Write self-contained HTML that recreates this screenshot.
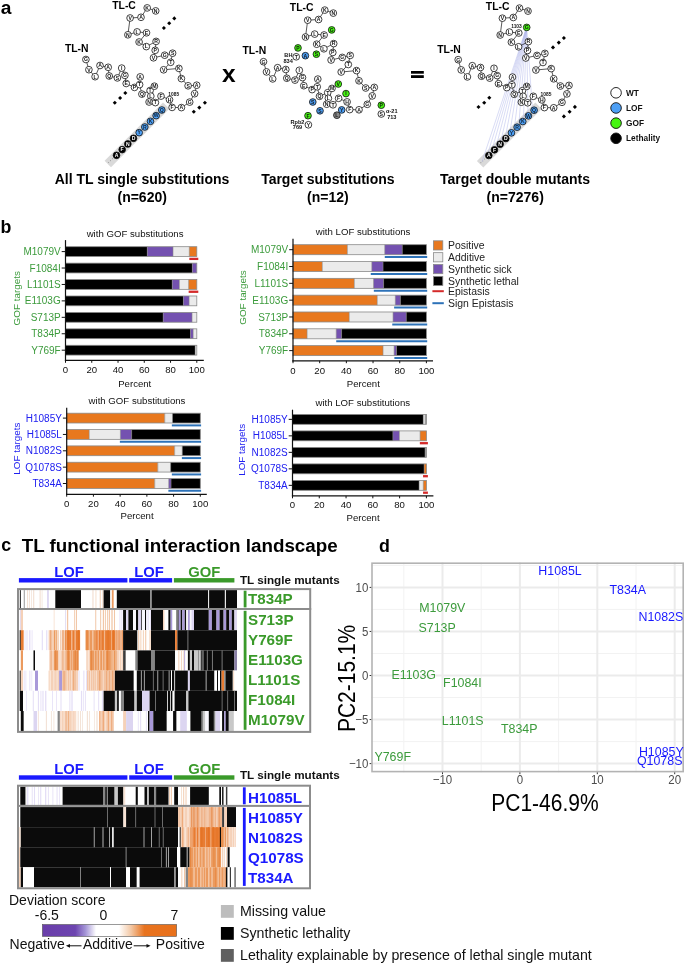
<!DOCTYPE html>
<html><head><meta charset="utf-8"><style>
html,body{margin:0;padding:0;background:#fff;}
svg{display:block;will-change:transform;}
text{font-family:"Liberation Sans", sans-serif;}
</style></head><body>
<svg width="685" height="965" viewBox="0 0 685 965" font-family='"Liberation Sans", sans-serif'>
<rect x="0" y="0" width="685" height="965" fill="#fff"/>
<text x="0.70" y="14.10" font-size="19.2" fill="#000" font-weight="bold" text-anchor="start" >a</text><line x1="107.80" y1="164.00" x2="166.20" y2="105.60" stroke="#d9d9d9" stroke-width="9"/><circle cx="108.60" cy="162.60" r="0.45" fill="#666"/><circle cx="110.50" cy="160.70" r="0.45" fill="#666"/><circle cx="112.40" cy="158.80" r="0.45" fill="#666"/><line x1="85.90" y1="59.50" x2="88.90" y2="69.70" stroke="#111" stroke-width="0.7" /><line x1="88.90" y1="69.70" x2="95.10" y2="76.70" stroke="#111" stroke-width="0.7" /><line x1="95.10" y1="76.70" x2="100.00" y2="65.50" stroke="#111" stroke-width="0.7" /><line x1="100.00" y1="65.50" x2="108.20" y2="67.30" stroke="#111" stroke-width="0.7" /><line x1="108.20" y1="67.30" x2="109.20" y2="76.00" stroke="#111" stroke-width="0.7" /><line x1="109.20" y1="76.00" x2="117.40" y2="77.90" stroke="#111" stroke-width="0.7" /><line x1="117.40" y1="77.90" x2="121.70" y2="68.10" stroke="#111" stroke-width="0.7" /><line x1="121.70" y1="68.10" x2="124.90" y2="75.40" stroke="#111" stroke-width="0.7" /><line x1="124.90" y1="75.40" x2="126.20" y2="83.50" stroke="#111" stroke-width="0.7" /><line x1="126.20" y1="83.50" x2="134.50" y2="87.40" stroke="#111" stroke-width="0.7" /><line x1="150.10" y1="90.50" x2="154.40" y2="86.20" stroke="#111" stroke-width="0.7" /><line x1="150.80" y1="96.10" x2="149.10" y2="102.00" stroke="#111" stroke-width="0.7" /><line x1="149.10" y1="102.00" x2="155.40" y2="102.60" stroke="#111" stroke-width="0.7" /><line x1="155.40" y1="102.60" x2="161.00" y2="96.10" stroke="#111" stroke-width="0.7" /><line x1="161.00" y1="96.10" x2="169.50" y2="99.70" stroke="#111" stroke-width="0.7" /><line x1="169.50" y1="99.70" x2="172.10" y2="107.40" stroke="#111" stroke-width="0.7" /><line x1="172.10" y1="107.40" x2="181.40" y2="107.60" stroke="#111" stroke-width="0.7" /><line x1="181.40" y1="107.60" x2="189.70" y2="102.10" stroke="#111" stroke-width="0.7" /><line x1="189.70" y1="102.10" x2="194.60" y2="93.70" stroke="#111" stroke-width="0.7" /><line x1="194.60" y1="93.70" x2="196.70" y2="85.20" stroke="#111" stroke-width="0.7" /><line x1="196.70" y1="85.20" x2="188.10" y2="85.80" stroke="#111" stroke-width="0.7" /><line x1="188.10" y1="85.80" x2="181.40" y2="78.60" stroke="#111" stroke-width="0.7" /><line x1="181.40" y1="78.60" x2="178.90" y2="68.40" stroke="#111" stroke-width="0.7" /><line x1="178.90" y1="68.40" x2="163.60" y2="69.80" stroke="#111" stroke-width="0.7" /><line x1="163.60" y1="69.80" x2="170.70" y2="62.30" stroke="#111" stroke-width="0.7" /><line x1="170.70" y1="62.30" x2="172.60" y2="53.20" stroke="#111" stroke-width="0.7" /><line x1="172.60" y1="53.20" x2="164.70" y2="55.20" stroke="#111" stroke-width="0.7" /><line x1="164.70" y1="55.20" x2="153.50" y2="57.80" stroke="#111" stroke-width="0.7" /><line x1="153.50" y1="57.80" x2="155.20" y2="50.30" stroke="#111" stroke-width="0.7" /><line x1="155.20" y1="50.30" x2="156.10" y2="41.40" stroke="#111" stroke-width="0.7" /><line x1="156.10" y1="41.40" x2="146.30" y2="46.60" stroke="#111" stroke-width="0.7" /><line x1="146.30" y1="46.60" x2="139.10" y2="42.00" stroke="#111" stroke-width="0.7" /><line x1="139.10" y1="42.00" x2="146.50" y2="32.80" stroke="#111" stroke-width="0.7" /><line x1="146.50" y1="32.80" x2="137.10" y2="31.90" stroke="#111" stroke-width="0.7" /><line x1="137.10" y1="31.90" x2="127.90" y2="34.80" stroke="#111" stroke-width="0.7" /><line x1="127.90" y1="34.80" x2="130.10" y2="18.00" stroke="#111" stroke-width="0.7" /><line x1="130.10" y1="18.00" x2="141.00" y2="17.30" stroke="#111" stroke-width="0.7" /><line x1="141.00" y1="17.30" x2="147.20" y2="7.90" stroke="#111" stroke-width="0.7" /><line x1="147.20" y1="7.90" x2="155.70" y2="10.90" stroke="#111" stroke-width="0.7" /><line x1="139.60" y1="84.60" x2="141.90" y2="94.10" stroke="#111" stroke-width="0.7" /><line x1="141.90" y1="94.10" x2="150.10" y2="90.50" stroke="#111" stroke-width="0.7" /><line x1="150.10" y1="90.50" x2="150.80" y2="96.10" stroke="#111" stroke-width="0.7" /><line x1="150.10" y1="90.50" x2="154.40" y2="86.20" stroke="#111" stroke-width="0.7" /><line x1="134.50" y1="87.40" x2="139.60" y2="84.60" stroke="#111" stroke-width="0.7" /><circle cx="85.90" cy="59.50" r="3.35" fill="#fff" stroke="#111" stroke-width="0.8"/><text x="85.90" y="61.30" font-size="5.1" font-weight="bold" fill="#111" text-anchor="middle">G</text><circle cx="88.90" cy="69.70" r="3.35" fill="#fff" stroke="#111" stroke-width="0.8"/><text x="88.90" y="71.50" font-size="5.1" font-weight="bold" fill="#111" text-anchor="middle">V</text><circle cx="95.10" cy="76.70" r="3.35" fill="#fff" stroke="#111" stroke-width="0.8"/><text x="95.10" y="78.50" font-size="5.1" font-weight="bold" fill="#111" text-anchor="middle">L</text><circle cx="100.00" cy="65.50" r="3.35" fill="#fff" stroke="#111" stroke-width="0.8"/><text x="100.00" y="67.30" font-size="5.1" font-weight="bold" fill="#111" text-anchor="middle">A</text><circle cx="108.20" cy="67.30" r="3.35" fill="#fff" stroke="#111" stroke-width="0.8"/><text x="108.20" y="69.10" font-size="5.1" font-weight="bold" fill="#111" text-anchor="middle">A</text><circle cx="109.20" cy="76.00" r="3.35" fill="#fff" stroke="#111" stroke-width="0.8"/><text x="109.20" y="77.80" font-size="5.1" font-weight="bold" fill="#111" text-anchor="middle">Q</text><circle cx="117.40" cy="77.90" r="3.35" fill="#fff" stroke="#111" stroke-width="0.8"/><text x="117.40" y="79.70" font-size="5.1" font-weight="bold" fill="#111" text-anchor="middle">S</text><circle cx="121.70" cy="68.10" r="3.35" fill="#fff" stroke="#111" stroke-width="0.8"/><text x="121.70" y="69.90" font-size="5.1" font-weight="bold" fill="#111" text-anchor="middle">I</text><circle cx="124.90" cy="75.40" r="3.35" fill="#fff" stroke="#111" stroke-width="0.8"/><text x="124.90" y="77.20" font-size="5.1" font-weight="bold" fill="#111" text-anchor="middle">G</text><circle cx="126.20" cy="83.50" r="3.35" fill="#fff" stroke="#111" stroke-width="0.8"/><text x="126.20" y="85.30" font-size="5.1" font-weight="bold" fill="#111" text-anchor="middle">E</text><circle cx="134.50" cy="87.40" r="3.35" fill="#fff" stroke="#111" stroke-width="0.8"/><text x="134.50" y="89.20" font-size="5.1" font-weight="bold" fill="#111" text-anchor="middle">P</text><circle cx="139.60" cy="84.60" r="3.35" fill="#fff" stroke="#111" stroke-width="0.8"/><text x="139.60" y="86.40" font-size="5.1" font-weight="bold" fill="#111" text-anchor="middle">T</text><circle cx="140.20" cy="76.90" r="3.35" fill="#fff" stroke="#111" stroke-width="0.8"/><text x="140.20" y="78.70" font-size="5.1" font-weight="bold" fill="#111" text-anchor="middle">A</text><circle cx="141.90" cy="94.10" r="3.35" fill="#fff" stroke="#111" stroke-width="0.8"/><text x="141.90" y="95.90" font-size="5.1" font-weight="bold" fill="#111" text-anchor="middle">Q</text><circle cx="150.10" cy="90.50" r="3.35" fill="#fff" stroke="#111" stroke-width="0.8"/><text x="150.10" y="92.30" font-size="5.1" font-weight="bold" fill="#111" text-anchor="middle">T</text><circle cx="154.40" cy="86.20" r="3.35" fill="#fff" stroke="#111" stroke-width="0.8"/><text x="154.40" y="88.00" font-size="5.1" font-weight="bold" fill="#111" text-anchor="middle">M</text><circle cx="150.80" cy="96.10" r="3.35" fill="#fff" stroke="#111" stroke-width="0.8"/><text x="150.80" y="97.90" font-size="5.1" font-weight="bold" fill="#111" text-anchor="middle">L</text><circle cx="149.10" cy="102.00" r="3.35" fill="#fff" stroke="#111" stroke-width="0.8"/><text x="149.10" y="103.80" font-size="5.1" font-weight="bold" fill="#111" text-anchor="middle">N</text><circle cx="155.40" cy="102.60" r="3.35" fill="#fff" stroke="#111" stroke-width="0.8"/><text x="155.40" y="104.40" font-size="5.1" font-weight="bold" fill="#111" text-anchor="middle">T</text><circle cx="161.00" cy="96.10" r="3.35" fill="#fff" stroke="#111" stroke-width="0.8"/><text x="161.00" y="97.90" font-size="5.1" font-weight="bold" fill="#111" text-anchor="middle">F</text><circle cx="169.50" cy="99.70" r="3.35" fill="#fff" stroke="#111" stroke-width="0.8"/><text x="169.50" y="101.50" font-size="5.1" font-weight="bold" fill="#111" text-anchor="middle">H</text><circle cx="172.10" cy="107.40" r="3.35" fill="#fff" stroke="#111" stroke-width="0.8"/><text x="172.10" y="109.20" font-size="5.1" font-weight="bold" fill="#111" text-anchor="middle">F</text><circle cx="181.40" cy="107.60" r="3.35" fill="#fff" stroke="#111" stroke-width="0.8"/><text x="181.40" y="109.40" font-size="5.1" font-weight="bold" fill="#111" text-anchor="middle">A</text><circle cx="189.70" cy="102.10" r="3.35" fill="#fff" stroke="#111" stroke-width="0.8"/><text x="189.70" y="103.90" font-size="5.1" font-weight="bold" fill="#111" text-anchor="middle">G</text><circle cx="194.60" cy="93.70" r="3.35" fill="#fff" stroke="#111" stroke-width="0.8"/><text x="194.60" y="95.50" font-size="5.1" font-weight="bold" fill="#111" text-anchor="middle">V</text><circle cx="196.70" cy="85.20" r="3.35" fill="#fff" stroke="#111" stroke-width="0.8"/><text x="196.70" y="87.00" font-size="5.1" font-weight="bold" fill="#111" text-anchor="middle">A</text><circle cx="188.10" cy="85.80" r="3.35" fill="#fff" stroke="#111" stroke-width="0.8"/><text x="188.10" y="87.60" font-size="5.1" font-weight="bold" fill="#111" text-anchor="middle">S</text><circle cx="181.40" cy="78.60" r="3.35" fill="#fff" stroke="#111" stroke-width="0.8"/><text x="181.40" y="80.40" font-size="5.1" font-weight="bold" fill="#111" text-anchor="middle">K</text><circle cx="178.90" cy="68.40" r="3.35" fill="#fff" stroke="#111" stroke-width="0.8"/><text x="178.90" y="70.20" font-size="5.1" font-weight="bold" fill="#111" text-anchor="middle">K</text><circle cx="163.60" cy="69.80" r="3.35" fill="#fff" stroke="#111" stroke-width="0.8"/><text x="163.60" y="71.60" font-size="5.1" font-weight="bold" fill="#111" text-anchor="middle">V</text><circle cx="170.70" cy="62.30" r="3.35" fill="#fff" stroke="#111" stroke-width="0.8"/><text x="170.70" y="64.10" font-size="5.1" font-weight="bold" fill="#111" text-anchor="middle">T</text><circle cx="172.60" cy="53.20" r="3.35" fill="#fff" stroke="#111" stroke-width="0.8"/><text x="172.60" y="55.00" font-size="5.1" font-weight="bold" fill="#111" text-anchor="middle">S</text><circle cx="164.70" cy="55.20" r="3.35" fill="#fff" stroke="#111" stroke-width="0.8"/><text x="164.70" y="57.00" font-size="5.1" font-weight="bold" fill="#111" text-anchor="middle">G</text><circle cx="153.50" cy="57.80" r="3.35" fill="#fff" stroke="#111" stroke-width="0.8"/><text x="153.50" y="59.60" font-size="5.1" font-weight="bold" fill="#111" text-anchor="middle">V</text><circle cx="155.20" cy="50.30" r="3.35" fill="#fff" stroke="#111" stroke-width="0.8"/><text x="155.20" y="52.10" font-size="5.1" font-weight="bold" fill="#111" text-anchor="middle">P</text><circle cx="156.10" cy="41.40" r="3.35" fill="#fff" stroke="#111" stroke-width="0.8"/><text x="156.10" y="43.20" font-size="5.1" font-weight="bold" fill="#111" text-anchor="middle">R</text><circle cx="146.30" cy="46.60" r="3.35" fill="#fff" stroke="#111" stroke-width="0.8"/><text x="146.30" y="48.40" font-size="5.1" font-weight="bold" fill="#111" text-anchor="middle">L</text><circle cx="139.10" cy="42.00" r="3.35" fill="#fff" stroke="#111" stroke-width="0.8"/><text x="139.10" y="43.80" font-size="5.1" font-weight="bold" fill="#111" text-anchor="middle">K</text><circle cx="146.50" cy="32.80" r="3.35" fill="#fff" stroke="#111" stroke-width="0.8"/><text x="146.50" y="34.60" font-size="5.1" font-weight="bold" fill="#111" text-anchor="middle">E</text><circle cx="137.10" cy="31.90" r="3.35" fill="#fff" stroke="#111" stroke-width="0.8"/><text x="137.10" y="33.70" font-size="5.1" font-weight="bold" fill="#111" text-anchor="middle">L</text><circle cx="127.90" cy="34.80" r="3.35" fill="#fff" stroke="#111" stroke-width="0.8"/><text x="127.90" y="36.60" font-size="5.1" font-weight="bold" fill="#111" text-anchor="middle">N</text><circle cx="130.10" cy="18.00" r="3.35" fill="#fff" stroke="#111" stroke-width="0.8"/><text x="130.10" y="19.80" font-size="5.1" font-weight="bold" fill="#111" text-anchor="middle">V</text><circle cx="141.00" cy="17.30" r="3.35" fill="#fff" stroke="#111" stroke-width="0.8"/><text x="141.00" y="19.10" font-size="5.1" font-weight="bold" fill="#111" text-anchor="middle">A</text><circle cx="147.20" cy="7.90" r="3.35" fill="#fff" stroke="#111" stroke-width="0.8"/><text x="147.20" y="9.70" font-size="5.1" font-weight="bold" fill="#111" text-anchor="middle">K</text><circle cx="155.70" cy="10.90" r="3.35" fill="#fff" stroke="#111" stroke-width="0.8"/><text x="155.70" y="12.70" font-size="5.1" font-weight="bold" fill="#111" text-anchor="middle">N</text><circle cx="161.80" cy="110.00" r="3.35" fill="#4d9ff5" stroke="#111" stroke-width="0.8"/><text x="161.80" y="111.80" font-size="5.1" font-weight="bold" fill="#123" text-anchor="middle">Q</text><circle cx="156.14" cy="115.66" r="3.35" fill="#4d9ff5" stroke="#111" stroke-width="0.8"/><text x="156.14" y="117.46" font-size="5.1" font-weight="bold" fill="#123" text-anchor="middle">W</text><circle cx="150.48" cy="121.32" r="3.35" fill="#4d9ff5" stroke="#111" stroke-width="0.8"/><text x="150.48" y="123.12" font-size="5.1" font-weight="bold" fill="#123" text-anchor="middle">K</text><circle cx="144.82" cy="126.98" r="3.35" fill="#4d9ff5" stroke="#111" stroke-width="0.8"/><text x="144.82" y="128.78" font-size="5.1" font-weight="bold" fill="#123" text-anchor="middle">R</text><circle cx="139.16" cy="132.64" r="3.35" fill="#4d9ff5" stroke="#111" stroke-width="0.8"/><text x="139.16" y="134.44" font-size="5.1" font-weight="bold" fill="#123" text-anchor="middle">Y</text><circle cx="133.50" cy="138.30" r="3.35" fill="#000" stroke="#111" stroke-width="0.8"/><text x="133.50" y="140.10" font-size="5.1" font-weight="bold" fill="#fff" text-anchor="middle">D</text><circle cx="127.84" cy="143.96" r="3.35" fill="#000" stroke="#111" stroke-width="0.8"/><text x="127.84" y="145.76" font-size="5.1" font-weight="bold" fill="#fff" text-anchor="middle">N</text><circle cx="122.18" cy="149.62" r="3.35" fill="#000" stroke="#111" stroke-width="0.8"/><text x="122.18" y="151.42" font-size="5.1" font-weight="bold" fill="#fff" text-anchor="middle">F</text><circle cx="116.52" cy="155.28" r="3.35" fill="#000" stroke="#111" stroke-width="0.8"/><text x="116.52" y="157.08" font-size="5.1" font-weight="bold" fill="#fff" text-anchor="middle">A</text><path d="M163.90,25.95 L165.95,28.00 L163.90,30.05 L161.85,28.00 Z" fill="#000"/><path d="M169.20,21.25 L171.25,23.30 L169.20,25.35 L167.15,23.30 Z" fill="#000"/><path d="M174.30,16.35 L176.35,18.40 L174.30,20.45 L172.25,18.40 Z" fill="#000"/><path d="M114.80,100.75 L116.85,102.80 L114.80,104.85 L112.75,102.80 Z" fill="#000"/><path d="M120.10,95.95 L122.15,98.00 L120.10,100.05 L118.05,98.00 Z" fill="#000"/><path d="M125.30,90.95 L127.35,93.00 L125.30,95.05 L123.25,93.00 Z" fill="#000"/><path d="M193.80,109.65 L195.85,111.70 L193.80,113.75 L191.75,111.70 Z" fill="#000"/><path d="M199.30,105.55 L201.35,107.60 L199.30,109.65 L197.25,107.60 Z" fill="#000"/><path d="M204.90,100.65 L206.95,102.70 L204.90,104.75 L202.85,102.70 Z" fill="#000"/><text x="168.30" y="96.00" font-size="4.9" fill="#111" font-weight="bold" text-anchor="start" >1085</text><text x="112.20" y="8.80" font-size="10.4" fill="#000" font-weight="bold" text-anchor="start" >TL-C</text><text x="64.90" y="52.00" font-size="10.4" fill="#000" font-weight="bold" text-anchor="start" >TL-N</text><text x="142.00" y="184.20" font-size="14" fill="#000" font-weight="bold" text-anchor="middle" >All TL single substitutions</text><text x="142.20" y="201.90" font-size="14" fill="#000" font-weight="bold" text-anchor="middle" >(n=620)</text><line x1="263.50" y1="61.70" x2="266.50" y2="71.90" stroke="#111" stroke-width="0.7" /><line x1="266.50" y1="71.90" x2="272.70" y2="78.90" stroke="#111" stroke-width="0.7" /><line x1="272.70" y1="78.90" x2="277.60" y2="67.70" stroke="#111" stroke-width="0.7" /><line x1="277.60" y1="67.70" x2="285.80" y2="69.50" stroke="#111" stroke-width="0.7" /><line x1="285.80" y1="69.50" x2="286.80" y2="78.20" stroke="#111" stroke-width="0.7" /><line x1="286.80" y1="78.20" x2="295.00" y2="80.10" stroke="#111" stroke-width="0.7" /><line x1="295.00" y1="80.10" x2="299.30" y2="70.30" stroke="#111" stroke-width="0.7" /><line x1="299.30" y1="70.30" x2="302.50" y2="77.60" stroke="#111" stroke-width="0.7" /><line x1="302.50" y1="77.60" x2="303.80" y2="85.70" stroke="#111" stroke-width="0.7" /><line x1="303.80" y1="85.70" x2="312.10" y2="89.60" stroke="#111" stroke-width="0.7" /><line x1="327.70" y1="92.70" x2="332.00" y2="88.40" stroke="#111" stroke-width="0.7" /><line x1="328.40" y1="98.30" x2="326.70" y2="104.20" stroke="#111" stroke-width="0.7" /><line x1="326.70" y1="104.20" x2="333.00" y2="104.80" stroke="#111" stroke-width="0.7" /><line x1="333.00" y1="104.80" x2="338.60" y2="98.30" stroke="#111" stroke-width="0.7" /><line x1="338.60" y1="98.30" x2="347.10" y2="101.90" stroke="#111" stroke-width="0.7" /><line x1="347.10" y1="101.90" x2="349.70" y2="109.60" stroke="#111" stroke-width="0.7" /><line x1="349.70" y1="109.60" x2="359.00" y2="109.80" stroke="#111" stroke-width="0.7" /><line x1="359.00" y1="109.80" x2="367.30" y2="104.30" stroke="#111" stroke-width="0.7" /><line x1="367.30" y1="104.30" x2="372.20" y2="95.90" stroke="#111" stroke-width="0.7" /><line x1="372.20" y1="95.90" x2="374.30" y2="87.40" stroke="#111" stroke-width="0.7" /><line x1="374.30" y1="87.40" x2="365.70" y2="88.00" stroke="#111" stroke-width="0.7" /><line x1="365.70" y1="88.00" x2="359.00" y2="80.80" stroke="#111" stroke-width="0.7" /><line x1="359.00" y1="80.80" x2="356.50" y2="70.60" stroke="#111" stroke-width="0.7" /><line x1="356.50" y1="70.60" x2="341.20" y2="72.00" stroke="#111" stroke-width="0.7" /><line x1="341.20" y1="72.00" x2="348.30" y2="64.50" stroke="#111" stroke-width="0.7" /><line x1="348.30" y1="64.50" x2="350.20" y2="55.40" stroke="#111" stroke-width="0.7" /><line x1="350.20" y1="55.40" x2="342.30" y2="57.40" stroke="#111" stroke-width="0.7" /><line x1="342.30" y1="57.40" x2="331.10" y2="60.00" stroke="#111" stroke-width="0.7" /><line x1="331.10" y1="60.00" x2="332.80" y2="52.50" stroke="#111" stroke-width="0.7" /><line x1="332.80" y1="52.50" x2="333.70" y2="43.60" stroke="#111" stroke-width="0.7" /><line x1="333.70" y1="43.60" x2="323.90" y2="48.80" stroke="#111" stroke-width="0.7" /><line x1="323.90" y1="48.80" x2="316.70" y2="44.20" stroke="#111" stroke-width="0.7" /><line x1="316.70" y1="44.20" x2="324.10" y2="35.00" stroke="#111" stroke-width="0.7" /><line x1="324.10" y1="35.00" x2="314.70" y2="34.10" stroke="#111" stroke-width="0.7" /><line x1="314.70" y1="34.10" x2="305.50" y2="37.00" stroke="#111" stroke-width="0.7" /><line x1="305.50" y1="37.00" x2="307.70" y2="20.20" stroke="#111" stroke-width="0.7" /><line x1="307.70" y1="20.20" x2="318.60" y2="19.50" stroke="#111" stroke-width="0.7" /><line x1="318.60" y1="19.50" x2="324.80" y2="10.10" stroke="#111" stroke-width="0.7" /><line x1="324.80" y1="10.10" x2="333.30" y2="13.10" stroke="#111" stroke-width="0.7" /><line x1="317.20" y1="86.80" x2="319.50" y2="96.30" stroke="#111" stroke-width="0.7" /><line x1="319.50" y1="96.30" x2="327.70" y2="92.70" stroke="#111" stroke-width="0.7" /><line x1="327.70" y1="92.70" x2="328.40" y2="98.30" stroke="#111" stroke-width="0.7" /><line x1="327.70" y1="92.70" x2="332.00" y2="88.40" stroke="#111" stroke-width="0.7" /><line x1="312.10" y1="89.60" x2="317.20" y2="86.80" stroke="#111" stroke-width="0.7" /><circle cx="263.50" cy="61.70" r="3.35" fill="#fff" stroke="#111" stroke-width="0.8"/><text x="263.50" y="63.50" font-size="5.1" font-weight="bold" fill="#111" text-anchor="middle">G</text><circle cx="266.50" cy="71.90" r="3.35" fill="#fff" stroke="#111" stroke-width="0.8"/><text x="266.50" y="73.70" font-size="5.1" font-weight="bold" fill="#111" text-anchor="middle">V</text><circle cx="272.70" cy="78.90" r="3.35" fill="#fff" stroke="#111" stroke-width="0.8"/><text x="272.70" y="80.70" font-size="5.1" font-weight="bold" fill="#111" text-anchor="middle">L</text><circle cx="277.60" cy="67.70" r="3.35" fill="#fff" stroke="#111" stroke-width="0.8"/><text x="277.60" y="69.50" font-size="5.1" font-weight="bold" fill="#111" text-anchor="middle">A</text><circle cx="285.80" cy="69.50" r="3.35" fill="#fff" stroke="#111" stroke-width="0.8"/><text x="285.80" y="71.30" font-size="5.1" font-weight="bold" fill="#111" text-anchor="middle">A</text><circle cx="286.80" cy="78.20" r="3.35" fill="#fff" stroke="#111" stroke-width="0.8"/><text x="286.80" y="80.00" font-size="5.1" font-weight="bold" fill="#111" text-anchor="middle">Q</text><circle cx="295.00" cy="80.10" r="3.35" fill="#fff" stroke="#111" stroke-width="0.8"/><text x="295.00" y="81.90" font-size="5.1" font-weight="bold" fill="#111" text-anchor="middle">S</text><circle cx="299.30" cy="70.30" r="3.35" fill="#fff" stroke="#111" stroke-width="0.8"/><text x="299.30" y="72.10" font-size="5.1" font-weight="bold" fill="#111" text-anchor="middle">I</text><circle cx="302.50" cy="77.60" r="3.35" fill="#fff" stroke="#111" stroke-width="0.8"/><text x="302.50" y="79.40" font-size="5.1" font-weight="bold" fill="#111" text-anchor="middle">G</text><circle cx="303.80" cy="85.70" r="3.35" fill="#fff" stroke="#111" stroke-width="0.8"/><text x="303.80" y="87.50" font-size="5.1" font-weight="bold" fill="#111" text-anchor="middle">E</text><circle cx="312.10" cy="89.60" r="3.35" fill="#fff" stroke="#111" stroke-width="0.8"/><text x="312.10" y="91.40" font-size="5.1" font-weight="bold" fill="#111" text-anchor="middle">P</text><circle cx="317.20" cy="86.80" r="3.35" fill="#fff" stroke="#111" stroke-width="0.8"/><text x="317.20" y="88.60" font-size="5.1" font-weight="bold" fill="#111" text-anchor="middle">T</text><circle cx="317.80" cy="79.10" r="3.35" fill="#fff" stroke="#111" stroke-width="0.8"/><text x="317.80" y="80.90" font-size="5.1" font-weight="bold" fill="#111" text-anchor="middle">A</text><circle cx="319.50" cy="96.30" r="3.35" fill="#fff" stroke="#111" stroke-width="0.8"/><text x="319.50" y="98.10" font-size="5.1" font-weight="bold" fill="#111" text-anchor="middle">Q</text><circle cx="327.70" cy="92.70" r="3.35" fill="#fff" stroke="#111" stroke-width="0.8"/><text x="327.70" y="94.50" font-size="5.1" font-weight="bold" fill="#111" text-anchor="middle">T</text><circle cx="332.00" cy="88.40" r="3.35" fill="#fff" stroke="#111" stroke-width="0.8"/><text x="332.00" y="90.20" font-size="5.1" font-weight="bold" fill="#111" text-anchor="middle">M</text><circle cx="328.40" cy="98.30" r="3.35" fill="#fff" stroke="#111" stroke-width="0.8"/><text x="328.40" y="100.10" font-size="5.1" font-weight="bold" fill="#111" text-anchor="middle">L</text><circle cx="326.70" cy="104.20" r="3.35" fill="#fff" stroke="#111" stroke-width="0.8"/><text x="326.70" y="106.00" font-size="5.1" font-weight="bold" fill="#111" text-anchor="middle">N</text><circle cx="333.00" cy="104.80" r="3.35" fill="#fff" stroke="#111" stroke-width="0.8"/><text x="333.00" y="106.60" font-size="5.1" font-weight="bold" fill="#111" text-anchor="middle">T</text><circle cx="338.60" cy="98.30" r="3.35" fill="#fff" stroke="#111" stroke-width="0.8"/><text x="338.60" y="100.10" font-size="5.1" font-weight="bold" fill="#111" text-anchor="middle">F</text><circle cx="347.10" cy="101.90" r="3.35" fill="#fff" stroke="#111" stroke-width="0.8"/><text x="347.10" y="103.70" font-size="5.1" font-weight="bold" fill="#111" text-anchor="middle">H</text><circle cx="349.70" cy="109.60" r="3.35" fill="#fff" stroke="#111" stroke-width="0.8"/><text x="349.70" y="111.40" font-size="5.1" font-weight="bold" fill="#111" text-anchor="middle">F</text><circle cx="359.00" cy="109.80" r="3.35" fill="#fff" stroke="#111" stroke-width="0.8"/><text x="359.00" y="111.60" font-size="5.1" font-weight="bold" fill="#111" text-anchor="middle">A</text><circle cx="367.30" cy="104.30" r="3.35" fill="#fff" stroke="#111" stroke-width="0.8"/><text x="367.30" y="106.10" font-size="5.1" font-weight="bold" fill="#111" text-anchor="middle">G</text><circle cx="372.20" cy="95.90" r="3.35" fill="#fff" stroke="#111" stroke-width="0.8"/><text x="372.20" y="97.70" font-size="5.1" font-weight="bold" fill="#111" text-anchor="middle">V</text><circle cx="374.30" cy="87.40" r="3.35" fill="#fff" stroke="#111" stroke-width="0.8"/><text x="374.30" y="89.20" font-size="5.1" font-weight="bold" fill="#111" text-anchor="middle">A</text><circle cx="365.70" cy="88.00" r="3.35" fill="#fff" stroke="#111" stroke-width="0.8"/><text x="365.70" y="89.80" font-size="5.1" font-weight="bold" fill="#111" text-anchor="middle">S</text><circle cx="359.00" cy="80.80" r="3.35" fill="#fff" stroke="#111" stroke-width="0.8"/><text x="359.00" y="82.60" font-size="5.1" font-weight="bold" fill="#111" text-anchor="middle">K</text><circle cx="356.50" cy="70.60" r="3.35" fill="#fff" stroke="#111" stroke-width="0.8"/><text x="356.50" y="72.40" font-size="5.1" font-weight="bold" fill="#111" text-anchor="middle">K</text><circle cx="341.20" cy="72.00" r="3.35" fill="#fff" stroke="#111" stroke-width="0.8"/><text x="341.20" y="73.80" font-size="5.1" font-weight="bold" fill="#111" text-anchor="middle">V</text><circle cx="348.30" cy="64.50" r="3.35" fill="#fff" stroke="#111" stroke-width="0.8"/><text x="348.30" y="66.30" font-size="5.1" font-weight="bold" fill="#111" text-anchor="middle">T</text><circle cx="350.20" cy="55.40" r="3.35" fill="#fff" stroke="#111" stroke-width="0.8"/><text x="350.20" y="57.20" font-size="5.1" font-weight="bold" fill="#111" text-anchor="middle">S</text><circle cx="342.30" cy="57.40" r="3.35" fill="#fff" stroke="#111" stroke-width="0.8"/><text x="342.30" y="59.20" font-size="5.1" font-weight="bold" fill="#111" text-anchor="middle">G</text><circle cx="331.10" cy="60.00" r="3.35" fill="#fff" stroke="#111" stroke-width="0.8"/><text x="331.10" y="61.80" font-size="5.1" font-weight="bold" fill="#111" text-anchor="middle">V</text><circle cx="332.80" cy="52.50" r="3.35" fill="#fff" stroke="#111" stroke-width="0.8"/><text x="332.80" y="54.30" font-size="5.1" font-weight="bold" fill="#111" text-anchor="middle">P</text><circle cx="333.70" cy="43.60" r="3.35" fill="#fff" stroke="#111" stroke-width="0.8"/><text x="333.70" y="45.40" font-size="5.1" font-weight="bold" fill="#111" text-anchor="middle">R</text><circle cx="323.90" cy="48.80" r="3.35" fill="#fff" stroke="#111" stroke-width="0.8"/><text x="323.90" y="50.60" font-size="5.1" font-weight="bold" fill="#111" text-anchor="middle">L</text><circle cx="316.70" cy="44.20" r="3.35" fill="#fff" stroke="#111" stroke-width="0.8"/><text x="316.70" y="46.00" font-size="5.1" font-weight="bold" fill="#111" text-anchor="middle">K</text><circle cx="324.10" cy="35.00" r="3.35" fill="#fff" stroke="#111" stroke-width="0.8"/><text x="324.10" y="36.80" font-size="5.1" font-weight="bold" fill="#111" text-anchor="middle">E</text><circle cx="314.70" cy="34.10" r="3.35" fill="#fff" stroke="#111" stroke-width="0.8"/><text x="314.70" y="35.90" font-size="5.1" font-weight="bold" fill="#111" text-anchor="middle">L</text><circle cx="305.50" cy="37.00" r="3.35" fill="#fff" stroke="#111" stroke-width="0.8"/><text x="305.50" y="38.80" font-size="5.1" font-weight="bold" fill="#111" text-anchor="middle">N</text><circle cx="307.70" cy="20.20" r="3.35" fill="#fff" stroke="#111" stroke-width="0.8"/><text x="307.70" y="22.00" font-size="5.1" font-weight="bold" fill="#111" text-anchor="middle">V</text><circle cx="318.60" cy="19.50" r="3.35" fill="#fff" stroke="#111" stroke-width="0.8"/><text x="318.60" y="21.30" font-size="5.1" font-weight="bold" fill="#111" text-anchor="middle">A</text><circle cx="324.80" cy="10.10" r="3.35" fill="#fff" stroke="#111" stroke-width="0.8"/><text x="324.80" y="11.90" font-size="5.1" font-weight="bold" fill="#111" text-anchor="middle">K</text><circle cx="333.30" cy="13.10" r="3.35" fill="#fff" stroke="#111" stroke-width="0.8"/><text x="333.30" y="14.90" font-size="5.1" font-weight="bold" fill="#111" text-anchor="middle">N</text><circle cx="331.70" cy="29.90" r="3.35" fill="#45f510" stroke="#111" stroke-width="0.8"/><text x="331.70" y="31.70" font-size="5.1" font-weight="bold" fill="#111" text-anchor="middle">G</text><circle cx="298.00" cy="47.90" r="3.35" fill="#45f510" stroke="#111" stroke-width="0.8"/><text x="298.00" y="49.70" font-size="5.1" font-weight="bold" fill="#111" text-anchor="middle">P</text><circle cx="296.20" cy="56.80" r="3.35" fill="#fff" stroke="#111" stroke-width="0.8"/><text x="296.20" y="58.60" font-size="5.1" font-weight="bold" fill="#111" text-anchor="middle">T</text><circle cx="305.40" cy="55.70" r="3.35" fill="#4d9ff5" stroke="#111" stroke-width="0.8"/><text x="305.40" y="57.50" font-size="5.1" font-weight="bold" fill="#111" text-anchor="middle">A</text><circle cx="316.40" cy="54.20" r="3.35" fill="#45f510" stroke="#111" stroke-width="0.8"/><text x="316.40" y="56.00" font-size="5.1" font-weight="bold" fill="#111" text-anchor="middle">S</text><circle cx="338.30" cy="84.00" r="3.35" fill="#45f510" stroke="#111" stroke-width="0.8"/><text x="338.30" y="85.80" font-size="5.1" font-weight="bold" fill="#111" text-anchor="middle">V</text><circle cx="346.00" cy="93.60" r="3.35" fill="#45f510" stroke="#111" stroke-width="0.8"/><text x="346.00" y="95.40" font-size="5.1" font-weight="bold" fill="#111" text-anchor="middle">I</text><circle cx="312.80" cy="102.00" r="3.35" fill="#4d9ff5" stroke="#111" stroke-width="0.8"/><text x="312.80" y="103.80" font-size="5.1" font-weight="bold" fill="#111" text-anchor="middle">S</text><circle cx="320.00" cy="110.80" r="3.35" fill="#4d9ff5" stroke="#111" stroke-width="0.8"/><text x="320.00" y="112.60" font-size="5.1" font-weight="bold" fill="#111" text-anchor="middle">S</text><circle cx="341.70" cy="109.90" r="3.35" fill="#4d9ff5" stroke="#111" stroke-width="0.8"/><text x="341.70" y="111.70" font-size="5.1" font-weight="bold" fill="#111" text-anchor="middle">Y</text><circle cx="336.90" cy="115.20" r="3.35" fill="#8a8a8a" stroke="#111" stroke-width="0.8"/><text x="336.90" y="117.00" font-size="5.1" font-weight="bold" fill="#111" text-anchor="middle">L</text><circle cx="308.00" cy="115.70" r="3.35" fill="#45f510" stroke="#111" stroke-width="0.8"/><text x="308.00" y="117.50" font-size="5.1" font-weight="bold" fill="#111" text-anchor="middle">F</text><circle cx="308.40" cy="124.80" r="3.35" fill="#fff" stroke="#111" stroke-width="0.8"/><text x="308.40" y="126.60" font-size="5.1" font-weight="bold" fill="#111" text-anchor="middle">Y</text><circle cx="381.30" cy="105.20" r="3.35" fill="#45f510" stroke="#111" stroke-width="0.8"/><text x="381.30" y="107.00" font-size="5.1" font-weight="bold" fill="#111" text-anchor="middle">P</text><circle cx="381.30" cy="114.00" r="3.35" fill="#fff" stroke="#111" stroke-width="0.8"/><text x="381.30" y="115.80" font-size="5.1" font-weight="bold" fill="#111" text-anchor="middle">S</text><text x="288.40" y="56.60" font-size="5.6" fill="#111" font-weight="bold" text-anchor="middle" >BH</text><text x="288.10" y="62.80" font-size="5.6" fill="#111" font-weight="bold" text-anchor="middle" >834</text><text x="297.50" y="123.50" font-size="5.6" fill="#111" font-weight="bold" text-anchor="middle" >Rpb2</text><text x="297.50" y="129.30" font-size="5.6" fill="#111" font-weight="bold" text-anchor="middle" >769</text><text x="391.80" y="113.00" font-size="5.6" fill="#111" font-weight="bold" text-anchor="middle" >α-21</text><text x="391.80" y="118.80" font-size="5.6" fill="#111" font-weight="bold" text-anchor="middle" >713</text><text x="289.80" y="11.00" font-size="10.4" fill="#000" font-weight="bold" text-anchor="start" >TL-C</text><text x="242.50" y="54.20" font-size="10.4" fill="#000" font-weight="bold" text-anchor="start" >TL-N</text><text x="222.00" y="81.80" font-size="24.5" fill="#000" font-weight="bold" text-anchor="start" >x</text><text x="327.90" y="184.40" font-size="14" fill="#000" font-weight="bold" text-anchor="middle" >Target substitutions</text><text x="327.90" y="201.80" font-size="14" fill="#000" font-weight="bold" text-anchor="middle" >(n=12)</text><rect x="411.00" y="71.00" width="12.80" height="2.70" fill="#000" /><rect x="411.00" y="75.20" width="12.80" height="2.80" fill="#000" /><line x1="480.10" y1="164.20" x2="538.50" y2="105.80" stroke="#d9d9d9" stroke-width="9"/><circle cx="480.90" cy="162.80" r="0.45" fill="#666"/><circle cx="482.80" cy="160.90" r="0.45" fill="#666"/><circle cx="484.70" cy="159.00" r="0.45" fill="#666"/><line x1="526.60" y1="27.40" x2="482.00" y2="161.80" stroke="#b3b8ea" stroke-width="0.5" /><line x1="526.60" y1="27.40" x2="486.60" y2="157.20" stroke="#b3b8ea" stroke-width="0.5" /><line x1="526.60" y1="27.40" x2="491.20" y2="152.60" stroke="#b3b8ea" stroke-width="0.5" /><line x1="526.60" y1="27.40" x2="495.80" y2="148.00" stroke="#b3b8ea" stroke-width="0.5" /><line x1="526.60" y1="27.40" x2="500.40" y2="143.40" stroke="#b3b8ea" stroke-width="0.5" /><line x1="526.60" y1="27.40" x2="505.00" y2="138.80" stroke="#b3b8ea" stroke-width="0.5" /><line x1="526.60" y1="27.40" x2="509.60" y2="134.20" stroke="#b3b8ea" stroke-width="0.5" /><line x1="526.60" y1="27.40" x2="514.20" y2="129.60" stroke="#b3b8ea" stroke-width="0.5" /><line x1="526.60" y1="27.40" x2="518.80" y2="125.00" stroke="#b3b8ea" stroke-width="0.5" /><line x1="526.60" y1="27.40" x2="523.40" y2="120.40" stroke="#b3b8ea" stroke-width="0.5" /><line x1="526.60" y1="27.40" x2="528.00" y2="115.80" stroke="#b3b8ea" stroke-width="0.5" /><line x1="526.60" y1="27.40" x2="532.60" y2="111.20" stroke="#b3b8ea" stroke-width="0.5" /><line x1="458.20" y1="59.70" x2="461.20" y2="69.90" stroke="#111" stroke-width="0.7" /><line x1="461.20" y1="69.90" x2="467.40" y2="76.90" stroke="#111" stroke-width="0.7" /><line x1="467.40" y1="76.90" x2="472.30" y2="65.70" stroke="#111" stroke-width="0.7" /><line x1="472.30" y1="65.70" x2="480.50" y2="67.50" stroke="#111" stroke-width="0.7" /><line x1="480.50" y1="67.50" x2="481.50" y2="76.20" stroke="#111" stroke-width="0.7" /><line x1="481.50" y1="76.20" x2="489.70" y2="78.10" stroke="#111" stroke-width="0.7" /><line x1="489.70" y1="78.10" x2="494.00" y2="68.30" stroke="#111" stroke-width="0.7" /><line x1="494.00" y1="68.30" x2="497.20" y2="75.60" stroke="#111" stroke-width="0.7" /><line x1="497.20" y1="75.60" x2="498.50" y2="83.70" stroke="#111" stroke-width="0.7" /><line x1="498.50" y1="83.70" x2="506.80" y2="87.60" stroke="#111" stroke-width="0.7" /><line x1="522.40" y1="90.70" x2="526.70" y2="86.40" stroke="#111" stroke-width="0.7" /><line x1="523.10" y1="96.30" x2="521.40" y2="102.20" stroke="#111" stroke-width="0.7" /><line x1="521.40" y1="102.20" x2="527.70" y2="102.80" stroke="#111" stroke-width="0.7" /><line x1="527.70" y1="102.80" x2="533.30" y2="96.30" stroke="#111" stroke-width="0.7" /><line x1="533.30" y1="96.30" x2="541.80" y2="99.90" stroke="#111" stroke-width="0.7" /><line x1="541.80" y1="99.90" x2="544.40" y2="107.60" stroke="#111" stroke-width="0.7" /><line x1="544.40" y1="107.60" x2="553.70" y2="107.80" stroke="#111" stroke-width="0.7" /><line x1="553.70" y1="107.80" x2="562.00" y2="102.30" stroke="#111" stroke-width="0.7" /><line x1="562.00" y1="102.30" x2="566.90" y2="93.90" stroke="#111" stroke-width="0.7" /><line x1="566.90" y1="93.90" x2="569.00" y2="85.40" stroke="#111" stroke-width="0.7" /><line x1="569.00" y1="85.40" x2="560.40" y2="86.00" stroke="#111" stroke-width="0.7" /><line x1="560.40" y1="86.00" x2="553.70" y2="78.80" stroke="#111" stroke-width="0.7" /><line x1="553.70" y1="78.80" x2="551.20" y2="68.60" stroke="#111" stroke-width="0.7" /><line x1="551.20" y1="68.60" x2="535.90" y2="70.00" stroke="#111" stroke-width="0.7" /><line x1="535.90" y1="70.00" x2="543.00" y2="62.50" stroke="#111" stroke-width="0.7" /><line x1="543.00" y1="62.50" x2="544.90" y2="53.40" stroke="#111" stroke-width="0.7" /><line x1="544.90" y1="53.40" x2="537.00" y2="55.40" stroke="#111" stroke-width="0.7" /><line x1="537.00" y1="55.40" x2="525.80" y2="58.00" stroke="#111" stroke-width="0.7" /><line x1="525.80" y1="58.00" x2="527.50" y2="50.50" stroke="#111" stroke-width="0.7" /><line x1="527.50" y1="50.50" x2="528.40" y2="41.60" stroke="#111" stroke-width="0.7" /><line x1="528.40" y1="41.60" x2="518.60" y2="46.80" stroke="#111" stroke-width="0.7" /><line x1="518.60" y1="46.80" x2="511.40" y2="42.20" stroke="#111" stroke-width="0.7" /><line x1="511.40" y1="42.20" x2="518.80" y2="33.00" stroke="#111" stroke-width="0.7" /><line x1="518.80" y1="33.00" x2="509.40" y2="32.10" stroke="#111" stroke-width="0.7" /><line x1="509.40" y1="32.10" x2="500.20" y2="35.00" stroke="#111" stroke-width="0.7" /><line x1="500.20" y1="35.00" x2="502.40" y2="18.20" stroke="#111" stroke-width="0.7" /><line x1="502.40" y1="18.20" x2="513.30" y2="17.50" stroke="#111" stroke-width="0.7" /><line x1="513.30" y1="17.50" x2="519.50" y2="8.10" stroke="#111" stroke-width="0.7" /><line x1="519.50" y1="8.10" x2="528.00" y2="11.10" stroke="#111" stroke-width="0.7" /><line x1="511.90" y1="84.80" x2="514.20" y2="94.30" stroke="#111" stroke-width="0.7" /><line x1="514.20" y1="94.30" x2="522.40" y2="90.70" stroke="#111" stroke-width="0.7" /><line x1="522.40" y1="90.70" x2="523.10" y2="96.30" stroke="#111" stroke-width="0.7" /><line x1="522.40" y1="90.70" x2="526.70" y2="86.40" stroke="#111" stroke-width="0.7" /><line x1="506.80" y1="87.60" x2="511.90" y2="84.80" stroke="#111" stroke-width="0.7" /><circle cx="458.20" cy="59.70" r="3.35" fill="#fff" stroke="#111" stroke-width="0.8"/><text x="458.20" y="61.50" font-size="5.1" font-weight="bold" fill="#111" text-anchor="middle">G</text><circle cx="461.20" cy="69.90" r="3.35" fill="#fff" stroke="#111" stroke-width="0.8"/><text x="461.20" y="71.70" font-size="5.1" font-weight="bold" fill="#111" text-anchor="middle">V</text><circle cx="467.40" cy="76.90" r="3.35" fill="#fff" stroke="#111" stroke-width="0.8"/><text x="467.40" y="78.70" font-size="5.1" font-weight="bold" fill="#111" text-anchor="middle">L</text><circle cx="472.30" cy="65.70" r="3.35" fill="#fff" stroke="#111" stroke-width="0.8"/><text x="472.30" y="67.50" font-size="5.1" font-weight="bold" fill="#111" text-anchor="middle">A</text><circle cx="480.50" cy="67.50" r="3.35" fill="#fff" stroke="#111" stroke-width="0.8"/><text x="480.50" y="69.30" font-size="5.1" font-weight="bold" fill="#111" text-anchor="middle">A</text><circle cx="481.50" cy="76.20" r="3.35" fill="#fff" stroke="#111" stroke-width="0.8"/><text x="481.50" y="78.00" font-size="5.1" font-weight="bold" fill="#111" text-anchor="middle">Q</text><circle cx="489.70" cy="78.10" r="3.35" fill="#fff" stroke="#111" stroke-width="0.8"/><text x="489.70" y="79.90" font-size="5.1" font-weight="bold" fill="#111" text-anchor="middle">S</text><circle cx="494.00" cy="68.30" r="3.35" fill="#fff" stroke="#111" stroke-width="0.8"/><text x="494.00" y="70.10" font-size="5.1" font-weight="bold" fill="#111" text-anchor="middle">I</text><circle cx="497.20" cy="75.60" r="3.35" fill="#fff" stroke="#111" stroke-width="0.8"/><text x="497.20" y="77.40" font-size="5.1" font-weight="bold" fill="#111" text-anchor="middle">G</text><circle cx="498.50" cy="83.70" r="3.35" fill="#fff" stroke="#111" stroke-width="0.8"/><text x="498.50" y="85.50" font-size="5.1" font-weight="bold" fill="#111" text-anchor="middle">E</text><circle cx="506.80" cy="87.60" r="3.35" fill="#fff" stroke="#111" stroke-width="0.8"/><text x="506.80" y="89.40" font-size="5.1" font-weight="bold" fill="#111" text-anchor="middle">P</text><circle cx="511.90" cy="84.80" r="3.35" fill="#fff" stroke="#111" stroke-width="0.8"/><text x="511.90" y="86.60" font-size="5.1" font-weight="bold" fill="#111" text-anchor="middle">T</text><circle cx="512.50" cy="77.10" r="3.35" fill="#fff" stroke="#111" stroke-width="0.8"/><text x="512.50" y="78.90" font-size="5.1" font-weight="bold" fill="#111" text-anchor="middle">A</text><circle cx="514.20" cy="94.30" r="3.35" fill="#fff" stroke="#111" stroke-width="0.8"/><text x="514.20" y="96.10" font-size="5.1" font-weight="bold" fill="#111" text-anchor="middle">Q</text><circle cx="522.40" cy="90.70" r="3.35" fill="#fff" stroke="#111" stroke-width="0.8"/><text x="522.40" y="92.50" font-size="5.1" font-weight="bold" fill="#111" text-anchor="middle">T</text><circle cx="526.70" cy="86.40" r="3.35" fill="#fff" stroke="#111" stroke-width="0.8"/><text x="526.70" y="88.20" font-size="5.1" font-weight="bold" fill="#111" text-anchor="middle">M</text><circle cx="523.10" cy="96.30" r="3.35" fill="#fff" stroke="#111" stroke-width="0.8"/><text x="523.10" y="98.10" font-size="5.1" font-weight="bold" fill="#111" text-anchor="middle">L</text><circle cx="521.40" cy="102.20" r="3.35" fill="#fff" stroke="#111" stroke-width="0.8"/><text x="521.40" y="104.00" font-size="5.1" font-weight="bold" fill="#111" text-anchor="middle">N</text><circle cx="527.70" cy="102.80" r="3.35" fill="#fff" stroke="#111" stroke-width="0.8"/><text x="527.70" y="104.60" font-size="5.1" font-weight="bold" fill="#111" text-anchor="middle">T</text><circle cx="533.30" cy="96.30" r="3.35" fill="#fff" stroke="#111" stroke-width="0.8"/><text x="533.30" y="98.10" font-size="5.1" font-weight="bold" fill="#111" text-anchor="middle">F</text><circle cx="541.80" cy="99.90" r="3.35" fill="#fff" stroke="#111" stroke-width="0.8"/><text x="541.80" y="101.70" font-size="5.1" font-weight="bold" fill="#111" text-anchor="middle">H</text><circle cx="544.40" cy="107.60" r="3.35" fill="#fff" stroke="#111" stroke-width="0.8"/><text x="544.40" y="109.40" font-size="5.1" font-weight="bold" fill="#111" text-anchor="middle">F</text><circle cx="553.70" cy="107.80" r="3.35" fill="#fff" stroke="#111" stroke-width="0.8"/><text x="553.70" y="109.60" font-size="5.1" font-weight="bold" fill="#111" text-anchor="middle">A</text><circle cx="562.00" cy="102.30" r="3.35" fill="#fff" stroke="#111" stroke-width="0.8"/><text x="562.00" y="104.10" font-size="5.1" font-weight="bold" fill="#111" text-anchor="middle">G</text><circle cx="566.90" cy="93.90" r="3.35" fill="#fff" stroke="#111" stroke-width="0.8"/><text x="566.90" y="95.70" font-size="5.1" font-weight="bold" fill="#111" text-anchor="middle">V</text><circle cx="569.00" cy="85.40" r="3.35" fill="#fff" stroke="#111" stroke-width="0.8"/><text x="569.00" y="87.20" font-size="5.1" font-weight="bold" fill="#111" text-anchor="middle">A</text><circle cx="560.40" cy="86.00" r="3.35" fill="#fff" stroke="#111" stroke-width="0.8"/><text x="560.40" y="87.80" font-size="5.1" font-weight="bold" fill="#111" text-anchor="middle">S</text><circle cx="553.70" cy="78.80" r="3.35" fill="#fff" stroke="#111" stroke-width="0.8"/><text x="553.70" y="80.60" font-size="5.1" font-weight="bold" fill="#111" text-anchor="middle">K</text><circle cx="551.20" cy="68.60" r="3.35" fill="#fff" stroke="#111" stroke-width="0.8"/><text x="551.20" y="70.40" font-size="5.1" font-weight="bold" fill="#111" text-anchor="middle">K</text><circle cx="535.90" cy="70.00" r="3.35" fill="#fff" stroke="#111" stroke-width="0.8"/><text x="535.90" y="71.80" font-size="5.1" font-weight="bold" fill="#111" text-anchor="middle">V</text><circle cx="543.00" cy="62.50" r="3.35" fill="#fff" stroke="#111" stroke-width="0.8"/><text x="543.00" y="64.30" font-size="5.1" font-weight="bold" fill="#111" text-anchor="middle">T</text><circle cx="544.90" cy="53.40" r="3.35" fill="#fff" stroke="#111" stroke-width="0.8"/><text x="544.90" y="55.20" font-size="5.1" font-weight="bold" fill="#111" text-anchor="middle">S</text><circle cx="537.00" cy="55.40" r="3.35" fill="#fff" stroke="#111" stroke-width="0.8"/><text x="537.00" y="57.20" font-size="5.1" font-weight="bold" fill="#111" text-anchor="middle">G</text><circle cx="525.80" cy="58.00" r="3.35" fill="#fff" stroke="#111" stroke-width="0.8"/><text x="525.80" y="59.80" font-size="5.1" font-weight="bold" fill="#111" text-anchor="middle">V</text><circle cx="527.50" cy="50.50" r="3.35" fill="#fff" stroke="#111" stroke-width="0.8"/><text x="527.50" y="52.30" font-size="5.1" font-weight="bold" fill="#111" text-anchor="middle">P</text><circle cx="528.40" cy="41.60" r="3.35" fill="#fff" stroke="#111" stroke-width="0.8"/><text x="528.40" y="43.40" font-size="5.1" font-weight="bold" fill="#111" text-anchor="middle">R</text><circle cx="518.60" cy="46.80" r="3.35" fill="#fff" stroke="#111" stroke-width="0.8"/><text x="518.60" y="48.60" font-size="5.1" font-weight="bold" fill="#111" text-anchor="middle">L</text><circle cx="511.40" cy="42.20" r="3.35" fill="#fff" stroke="#111" stroke-width="0.8"/><text x="511.40" y="44.00" font-size="5.1" font-weight="bold" fill="#111" text-anchor="middle">K</text><circle cx="518.80" cy="33.00" r="3.35" fill="#fff" stroke="#111" stroke-width="0.8"/><text x="518.80" y="34.80" font-size="5.1" font-weight="bold" fill="#111" text-anchor="middle">E</text><circle cx="509.40" cy="32.10" r="3.35" fill="#fff" stroke="#111" stroke-width="0.8"/><text x="509.40" y="33.90" font-size="5.1" font-weight="bold" fill="#111" text-anchor="middle">L</text><circle cx="500.20" cy="35.00" r="3.35" fill="#fff" stroke="#111" stroke-width="0.8"/><text x="500.20" y="36.80" font-size="5.1" font-weight="bold" fill="#111" text-anchor="middle">N</text><circle cx="502.40" cy="18.20" r="3.35" fill="#fff" stroke="#111" stroke-width="0.8"/><text x="502.40" y="20.00" font-size="5.1" font-weight="bold" fill="#111" text-anchor="middle">V</text><circle cx="513.30" cy="17.50" r="3.35" fill="#fff" stroke="#111" stroke-width="0.8"/><text x="513.30" y="19.30" font-size="5.1" font-weight="bold" fill="#111" text-anchor="middle">A</text><circle cx="519.50" cy="8.10" r="3.35" fill="#fff" stroke="#111" stroke-width="0.8"/><text x="519.50" y="9.90" font-size="5.1" font-weight="bold" fill="#111" text-anchor="middle">K</text><circle cx="528.00" cy="11.10" r="3.35" fill="#fff" stroke="#111" stroke-width="0.8"/><text x="528.00" y="12.90" font-size="5.1" font-weight="bold" fill="#111" text-anchor="middle">N</text><circle cx="534.10" cy="110.20" r="3.35" fill="#4d9ff5" stroke="#111" stroke-width="0.8"/><text x="534.10" y="112.00" font-size="5.1" font-weight="bold" fill="#123" text-anchor="middle">Q</text><circle cx="528.44" cy="115.86" r="3.35" fill="#4d9ff5" stroke="#111" stroke-width="0.8"/><text x="528.44" y="117.66" font-size="5.1" font-weight="bold" fill="#123" text-anchor="middle">W</text><circle cx="522.78" cy="121.52" r="3.35" fill="#4d9ff5" stroke="#111" stroke-width="0.8"/><text x="522.78" y="123.32" font-size="5.1" font-weight="bold" fill="#123" text-anchor="middle">K</text><circle cx="517.12" cy="127.18" r="3.35" fill="#4d9ff5" stroke="#111" stroke-width="0.8"/><text x="517.12" y="128.98" font-size="5.1" font-weight="bold" fill="#123" text-anchor="middle">R</text><circle cx="511.46" cy="132.84" r="3.35" fill="#4d9ff5" stroke="#111" stroke-width="0.8"/><text x="511.46" y="134.64" font-size="5.1" font-weight="bold" fill="#123" text-anchor="middle">Y</text><circle cx="505.80" cy="138.50" r="3.35" fill="#000" stroke="#111" stroke-width="0.8"/><text x="505.80" y="140.30" font-size="5.1" font-weight="bold" fill="#fff" text-anchor="middle">D</text><circle cx="500.14" cy="144.16" r="3.35" fill="#000" stroke="#111" stroke-width="0.8"/><text x="500.14" y="145.96" font-size="5.1" font-weight="bold" fill="#fff" text-anchor="middle">N</text><circle cx="494.48" cy="149.82" r="3.35" fill="#000" stroke="#111" stroke-width="0.8"/><text x="494.48" y="151.62" font-size="5.1" font-weight="bold" fill="#fff" text-anchor="middle">F</text><circle cx="488.82" cy="155.48" r="3.35" fill="#000" stroke="#111" stroke-width="0.8"/><text x="488.82" y="157.28" font-size="5.1" font-weight="bold" fill="#fff" text-anchor="middle">A</text><circle cx="526.70" cy="27.40" r="3.35" fill="#45f510" stroke="#111" stroke-width="0.8"/><text x="526.70" y="29.20" font-size="5.1" font-weight="bold" fill="#111" text-anchor="middle">G</text><text x="516.50" y="28.00" font-size="4.9" fill="#111" font-weight="bold" text-anchor="middle" >1103</text><text x="540.50" y="96.20" font-size="4.9" fill="#111" font-weight="bold" text-anchor="start" >1085</text><path d="M553.00,45.35 L555.05,47.40 L553.00,49.45 L550.95,47.40 Z" fill="#000"/><path d="M558.80,40.55 L560.85,42.60 L558.80,44.65 L556.75,42.60 Z" fill="#000"/><path d="M563.90,35.95 L565.95,38.00 L563.90,40.05 L561.85,38.00 Z" fill="#000"/><path d="M478.50,104.95 L480.55,107.00 L478.50,109.05 L476.45,107.00 Z" fill="#000"/><path d="M484.20,100.75 L486.25,102.80 L484.20,104.85 L482.15,102.80 Z" fill="#000"/><path d="M489.30,95.75 L491.35,97.80 L489.30,99.85 L487.25,97.80 Z" fill="#000"/><path d="M563.90,114.35 L565.95,116.40 L563.90,118.45 L561.85,116.40 Z" fill="#000"/><path d="M569.60,109.65 L571.65,111.70 L569.60,113.75 L567.55,111.70 Z" fill="#000"/><path d="M574.90,104.85 L576.95,106.90 L574.90,108.95 L572.85,106.90 Z" fill="#000"/><text x="485.80" y="9.50" font-size="10.4" fill="#000" font-weight="bold" text-anchor="start" >TL-C</text><text x="437.20" y="52.60" font-size="10.4" fill="#000" font-weight="bold" text-anchor="start" >TL-N</text><text x="515.00" y="184.40" font-size="14" fill="#000" font-weight="bold" text-anchor="middle" >Target double mutants</text><text x="515.20" y="201.80" font-size="14" fill="#000" font-weight="bold" text-anchor="middle" >(n=7276)</text><circle cx="616.05" cy="92.80" r="5.3" fill="#fff" stroke="#111" stroke-width="0.9"/><text x="626.00" y="95.80" font-size="8.3" fill="#111" font-weight="bold" text-anchor="start" >WT</text><circle cx="616.05" cy="107.97" r="5.3" fill="#4d9ff5" stroke="#111" stroke-width="0.9"/><text x="626.00" y="110.97" font-size="8.3" fill="#111" font-weight="bold" text-anchor="start" >LOF</text><circle cx="616.05" cy="123.14" r="5.3" fill="#45f510" stroke="#111" stroke-width="0.9"/><text x="626.00" y="126.14" font-size="8.3" fill="#111" font-weight="bold" text-anchor="start" >GOF</text><circle cx="616.05" cy="138.31" r="5.3" fill="#000" stroke="#111" stroke-width="0.9"/><text x="626.00" y="141.31" font-size="8.3" fill="#111" font-weight="bold" text-anchor="start" >Lethality</text>
<text x="135.10" y="237.30" font-size="9.65" fill="#111" text-anchor="middle" >with GOF substitutions</text><rect x="65.50" y="246.70" width="81.80" height="9.80" fill="#000000" /><rect x="147.30" y="246.70" width="25.73" height="9.80" fill="#7451b0" /><rect x="173.03" y="246.70" width="16.28" height="9.80" fill="#ebebeb" /><rect x="189.32" y="246.70" width="7.48" height="9.80" fill="#e8781e" /><rect x="65.50" y="246.70" width="131.30" height="9.80" fill="none" stroke="#8a8a8a" stroke-width="0.8"/><line x1="147.30" y1="246.70" x2="147.30" y2="256.50" stroke="#8a8a8a" stroke-width="0.6" /><line x1="173.03" y1="246.70" x2="173.03" y2="256.50" stroke="#8a8a8a" stroke-width="0.6" /><line x1="189.32" y1="246.70" x2="189.32" y2="256.50" stroke="#8a8a8a" stroke-width="0.6" /><rect x="65.50" y="263.13" width="126.84" height="9.80" fill="#000000" /><rect x="192.34" y="263.13" width="4.46" height="9.80" fill="#7451b0" /><rect x="65.50" y="263.13" width="131.30" height="9.80" fill="none" stroke="#8a8a8a" stroke-width="0.8"/><line x1="192.34" y1="263.13" x2="192.34" y2="272.93" stroke="#8a8a8a" stroke-width="0.6" /><rect x="65.50" y="279.56" width="106.75" height="9.80" fill="#000000" /><rect x="172.25" y="279.56" width="7.22" height="9.80" fill="#7451b0" /><rect x="179.47" y="279.56" width="9.19" height="9.80" fill="#ebebeb" /><rect x="188.66" y="279.56" width="8.14" height="9.80" fill="#e8781e" /><rect x="65.50" y="279.56" width="131.30" height="9.80" fill="none" stroke="#8a8a8a" stroke-width="0.8"/><line x1="172.25" y1="279.56" x2="172.25" y2="289.36" stroke="#8a8a8a" stroke-width="0.6" /><line x1="179.47" y1="279.56" x2="179.47" y2="289.36" stroke="#8a8a8a" stroke-width="0.6" /><line x1="188.66" y1="279.56" x2="188.66" y2="289.36" stroke="#8a8a8a" stroke-width="0.6" /><rect x="65.50" y="295.99" width="117.91" height="9.80" fill="#000000" /><rect x="183.41" y="295.99" width="5.78" height="9.80" fill="#7451b0" /><rect x="189.18" y="295.99" width="7.62" height="9.80" fill="#ebebeb" /><rect x="65.50" y="295.99" width="131.30" height="9.80" fill="none" stroke="#8a8a8a" stroke-width="0.8"/><line x1="183.41" y1="295.99" x2="183.41" y2="305.79" stroke="#8a8a8a" stroke-width="0.6" /><line x1="189.18" y1="295.99" x2="189.18" y2="305.79" stroke="#8a8a8a" stroke-width="0.6" /><rect x="65.50" y="312.42" width="97.69" height="9.80" fill="#000000" /><rect x="163.19" y="312.42" width="28.89" height="9.80" fill="#7451b0" /><rect x="192.07" y="312.42" width="4.73" height="9.80" fill="#ebebeb" /><rect x="65.50" y="312.42" width="131.30" height="9.80" fill="none" stroke="#8a8a8a" stroke-width="0.8"/><line x1="163.19" y1="312.42" x2="163.19" y2="322.22" stroke="#8a8a8a" stroke-width="0.6" /><line x1="192.07" y1="312.42" x2="192.07" y2="322.22" stroke="#8a8a8a" stroke-width="0.6" /><rect x="65.50" y="328.85" width="125.00" height="9.80" fill="#000000" /><rect x="190.50" y="328.85" width="2.76" height="9.80" fill="#7451b0" /><rect x="193.25" y="328.85" width="3.55" height="9.80" fill="#ebebeb" /><rect x="65.50" y="328.85" width="131.30" height="9.80" fill="none" stroke="#8a8a8a" stroke-width="0.8"/><line x1="190.50" y1="328.85" x2="190.50" y2="338.65" stroke="#8a8a8a" stroke-width="0.6" /><line x1="193.25" y1="328.85" x2="193.25" y2="338.65" stroke="#8a8a8a" stroke-width="0.6" /><rect x="65.50" y="345.28" width="129.72" height="9.80" fill="#000000" /><rect x="195.22" y="345.28" width="1.58" height="9.80" fill="#ebebeb" /><rect x="65.50" y="345.28" width="131.30" height="9.80" fill="none" stroke="#8a8a8a" stroke-width="0.8"/><line x1="195.22" y1="345.28" x2="195.22" y2="355.08" stroke="#8a8a8a" stroke-width="0.6" /><line x1="189.32" y1="258.90" x2="198.30" y2="258.90" stroke="#d42a2a" stroke-width="2.3" /><line x1="188.66" y1="291.76" x2="198.30" y2="291.76" stroke="#d42a2a" stroke-width="2.3" /><line x1="65.50" y1="240.10" x2="65.50" y2="361.00" stroke="#111" stroke-width="1.2" /><line x1="64.90" y1="360.40" x2="203.80" y2="360.40" stroke="#111" stroke-width="1.2" /><line x1="65.50" y1="360.40" x2="65.50" y2="362.80" stroke="#111" stroke-width="1" /><text x="65.50" y="373.20" font-size="9.6" fill="#111" text-anchor="middle" >0</text><line x1="91.76" y1="360.40" x2="91.76" y2="362.80" stroke="#111" stroke-width="1" /><text x="91.76" y="373.20" font-size="9.6" fill="#111" text-anchor="middle" >20</text><line x1="118.02" y1="360.40" x2="118.02" y2="362.80" stroke="#111" stroke-width="1" /><text x="118.02" y="373.20" font-size="9.6" fill="#111" text-anchor="middle" >40</text><line x1="144.28" y1="360.40" x2="144.28" y2="362.80" stroke="#111" stroke-width="1" /><text x="144.28" y="373.20" font-size="9.6" fill="#111" text-anchor="middle" >60</text><line x1="170.54" y1="360.40" x2="170.54" y2="362.80" stroke="#111" stroke-width="1" /><text x="170.54" y="373.20" font-size="9.6" fill="#111" text-anchor="middle" >80</text><line x1="196.80" y1="360.40" x2="196.80" y2="362.80" stroke="#111" stroke-width="1" /><text x="196.80" y="373.20" font-size="9.6" fill="#111" text-anchor="middle" >100</text><text x="134.75" y="386.80" font-size="9.6" fill="#111" text-anchor="middle" >Percent</text><line x1="61.70" y1="251.60" x2="65.50" y2="251.60" stroke="#111" stroke-width="1" /><text x="60.70" y="255.20" font-size="10" fill="#3c9b3c" text-anchor="end" >M1079V</text><line x1="61.70" y1="268.03" x2="65.50" y2="268.03" stroke="#111" stroke-width="1" /><text x="60.70" y="271.63" font-size="10" fill="#3c9b3c" text-anchor="end" >F1084I</text><line x1="61.70" y1="284.46" x2="65.50" y2="284.46" stroke="#111" stroke-width="1" /><text x="60.70" y="288.06" font-size="10" fill="#3c9b3c" text-anchor="end" >L1101S</text><line x1="61.70" y1="300.89" x2="65.50" y2="300.89" stroke="#111" stroke-width="1" /><text x="60.70" y="304.49" font-size="10" fill="#3c9b3c" text-anchor="end" >E1103G</text><line x1="61.70" y1="317.32" x2="65.50" y2="317.32" stroke="#111" stroke-width="1" /><text x="60.70" y="320.92" font-size="10" fill="#3c9b3c" text-anchor="end" >S713P</text><line x1="61.70" y1="333.75" x2="65.50" y2="333.75" stroke="#111" stroke-width="1" /><text x="60.70" y="337.35" font-size="10" fill="#3c9b3c" text-anchor="end" >T834P</text><line x1="61.70" y1="350.18" x2="65.50" y2="350.18" stroke="#111" stroke-width="1" /><text x="60.70" y="353.78" font-size="10" fill="#3c9b3c" text-anchor="end" >Y769F</text><text x="0" y="0" font-size="9.9" fill="#3c9b3c" text-anchor="middle" transform="translate(19.90,298.30) rotate(-90)">GOF targets</text><text x="363.10" y="234.70" font-size="9.65" fill="#111" text-anchor="middle" >with LOF substitutions</text><rect x="293.00" y="244.70" width="54.43" height="10.00" fill="#e8781e" /><rect x="347.43" y="244.70" width="37.35" height="10.00" fill="#ebebeb" /><rect x="384.78" y="244.70" width="17.48" height="10.00" fill="#7451b0" /><rect x="402.25" y="244.70" width="24.15" height="10.00" fill="#000000" /><rect x="293.00" y="244.70" width="133.40" height="10.00" fill="none" stroke="#8a8a8a" stroke-width="0.8"/><line x1="347.43" y1="244.70" x2="347.43" y2="254.70" stroke="#8a8a8a" stroke-width="0.6" /><line x1="384.78" y1="244.70" x2="384.78" y2="254.70" stroke="#8a8a8a" stroke-width="0.6" /><line x1="402.25" y1="244.70" x2="402.25" y2="254.70" stroke="#8a8a8a" stroke-width="0.6" /><rect x="293.00" y="261.52" width="29.35" height="10.00" fill="#e8781e" /><rect x="322.35" y="261.52" width="49.49" height="10.00" fill="#ebebeb" /><rect x="371.84" y="261.52" width="11.21" height="10.00" fill="#7451b0" /><rect x="383.04" y="261.52" width="43.35" height="10.00" fill="#000000" /><rect x="293.00" y="261.52" width="133.40" height="10.00" fill="none" stroke="#8a8a8a" stroke-width="0.8"/><line x1="322.35" y1="261.52" x2="322.35" y2="271.52" stroke="#8a8a8a" stroke-width="0.6" /><line x1="371.84" y1="261.52" x2="371.84" y2="271.52" stroke="#8a8a8a" stroke-width="0.6" /><line x1="383.04" y1="261.52" x2="383.04" y2="271.52" stroke="#8a8a8a" stroke-width="0.6" /><rect x="293.00" y="278.34" width="61.36" height="10.00" fill="#e8781e" /><rect x="354.36" y="278.34" width="19.21" height="10.00" fill="#ebebeb" /><rect x="373.57" y="278.34" width="10.01" height="10.00" fill="#7451b0" /><rect x="383.58" y="278.34" width="42.82" height="10.00" fill="#000000" /><rect x="293.00" y="278.34" width="133.40" height="10.00" fill="none" stroke="#8a8a8a" stroke-width="0.8"/><line x1="354.36" y1="278.34" x2="354.36" y2="288.34" stroke="#8a8a8a" stroke-width="0.6" /><line x1="373.57" y1="278.34" x2="373.57" y2="288.34" stroke="#8a8a8a" stroke-width="0.6" /><line x1="383.58" y1="278.34" x2="383.58" y2="288.34" stroke="#8a8a8a" stroke-width="0.6" /><rect x="293.00" y="295.16" width="84.31" height="10.00" fill="#e8781e" /><rect x="377.31" y="295.16" width="18.01" height="10.00" fill="#ebebeb" /><rect x="395.32" y="295.16" width="5.07" height="10.00" fill="#7451b0" /><rect x="400.39" y="295.16" width="26.01" height="10.00" fill="#000000" /><rect x="293.00" y="295.16" width="133.40" height="10.00" fill="none" stroke="#8a8a8a" stroke-width="0.8"/><line x1="377.31" y1="295.16" x2="377.31" y2="305.16" stroke="#8a8a8a" stroke-width="0.6" /><line x1="395.32" y1="295.16" x2="395.32" y2="305.16" stroke="#8a8a8a" stroke-width="0.6" /><line x1="400.39" y1="295.16" x2="400.39" y2="305.16" stroke="#8a8a8a" stroke-width="0.6" /><rect x="293.00" y="311.98" width="56.29" height="10.00" fill="#e8781e" /><rect x="349.29" y="311.98" width="43.76" height="10.00" fill="#ebebeb" /><rect x="393.05" y="311.98" width="13.21" height="10.00" fill="#7451b0" /><rect x="406.26" y="311.98" width="20.14" height="10.00" fill="#000000" /><rect x="293.00" y="311.98" width="133.40" height="10.00" fill="none" stroke="#8a8a8a" stroke-width="0.8"/><line x1="349.29" y1="311.98" x2="349.29" y2="321.98" stroke="#8a8a8a" stroke-width="0.6" /><line x1="393.05" y1="311.98" x2="393.05" y2="321.98" stroke="#8a8a8a" stroke-width="0.6" /><line x1="406.26" y1="311.98" x2="406.26" y2="321.98" stroke="#8a8a8a" stroke-width="0.6" /><rect x="293.00" y="328.80" width="14.14" height="10.00" fill="#e8781e" /><rect x="307.14" y="328.80" width="29.08" height="10.00" fill="#ebebeb" /><rect x="336.22" y="328.80" width="5.34" height="10.00" fill="#7451b0" /><rect x="341.56" y="328.80" width="84.84" height="10.00" fill="#000000" /><rect x="293.00" y="328.80" width="133.40" height="10.00" fill="none" stroke="#8a8a8a" stroke-width="0.8"/><line x1="307.14" y1="328.80" x2="307.14" y2="338.80" stroke="#8a8a8a" stroke-width="0.6" /><line x1="336.22" y1="328.80" x2="336.22" y2="338.80" stroke="#8a8a8a" stroke-width="0.6" /><line x1="341.56" y1="328.80" x2="341.56" y2="338.80" stroke="#8a8a8a" stroke-width="0.6" /><rect x="293.00" y="345.62" width="90.04" height="10.00" fill="#e8781e" /><rect x="383.04" y="345.62" width="11.07" height="10.00" fill="#ebebeb" /><rect x="394.12" y="345.62" width="2.40" height="10.00" fill="#7451b0" /><rect x="396.52" y="345.62" width="29.88" height="10.00" fill="#000000" /><rect x="293.00" y="345.62" width="133.40" height="10.00" fill="none" stroke="#8a8a8a" stroke-width="0.8"/><line x1="383.04" y1="345.62" x2="383.04" y2="355.62" stroke="#8a8a8a" stroke-width="0.6" /><line x1="394.12" y1="345.62" x2="394.12" y2="355.62" stroke="#8a8a8a" stroke-width="0.6" /><line x1="396.52" y1="345.62" x2="396.52" y2="355.62" stroke="#8a8a8a" stroke-width="0.6" /><line x1="384.78" y1="257.10" x2="427.20" y2="257.10" stroke="#2d72b8" stroke-width="2" /><line x1="370.77" y1="273.92" x2="427.20" y2="273.92" stroke="#2d72b8" stroke-width="2" /><line x1="373.84" y1="290.74" x2="427.20" y2="290.74" stroke="#2d72b8" stroke-width="2" /><line x1="394.12" y1="307.56" x2="427.20" y2="307.56" stroke="#2d72b8" stroke-width="2" /><line x1="392.25" y1="324.38" x2="427.20" y2="324.38" stroke="#2d72b8" stroke-width="2" /><line x1="336.22" y1="341.20" x2="427.20" y2="341.20" stroke="#2d72b8" stroke-width="2" /><line x1="394.38" y1="358.02" x2="427.20" y2="358.02" stroke="#2d72b8" stroke-width="2" /><line x1="293.00" y1="238.80" x2="293.00" y2="361.40" stroke="#111" stroke-width="1.2" /><line x1="292.40" y1="360.80" x2="433.00" y2="360.80" stroke="#111" stroke-width="1.2" /><line x1="293.00" y1="360.80" x2="293.00" y2="363.20" stroke="#111" stroke-width="1" /><text x="293.00" y="373.60" font-size="9.6" fill="#111" text-anchor="middle" >0</text><line x1="319.68" y1="360.80" x2="319.68" y2="363.20" stroke="#111" stroke-width="1" /><text x="319.68" y="373.60" font-size="9.6" fill="#111" text-anchor="middle" >20</text><line x1="346.36" y1="360.80" x2="346.36" y2="363.20" stroke="#111" stroke-width="1" /><text x="346.36" y="373.60" font-size="9.6" fill="#111" text-anchor="middle" >40</text><line x1="373.04" y1="360.80" x2="373.04" y2="363.20" stroke="#111" stroke-width="1" /><text x="373.04" y="373.60" font-size="9.6" fill="#111" text-anchor="middle" >60</text><line x1="399.72" y1="360.80" x2="399.72" y2="363.20" stroke="#111" stroke-width="1" /><text x="399.72" y="373.60" font-size="9.6" fill="#111" text-anchor="middle" >80</text><line x1="426.40" y1="360.80" x2="426.40" y2="363.20" stroke="#111" stroke-width="1" /><text x="426.40" y="373.60" font-size="9.6" fill="#111" text-anchor="middle" >100</text><text x="363.30" y="387.20" font-size="9.6" fill="#111" text-anchor="middle" >Percent</text><line x1="289.20" y1="249.70" x2="293.00" y2="249.70" stroke="#111" stroke-width="1" /><text x="288.20" y="253.30" font-size="10" fill="#3c9b3c" text-anchor="end" >M1079V</text><line x1="289.20" y1="266.52" x2="293.00" y2="266.52" stroke="#111" stroke-width="1" /><text x="288.20" y="270.12" font-size="10" fill="#3c9b3c" text-anchor="end" >F1084I</text><line x1="289.20" y1="283.34" x2="293.00" y2="283.34" stroke="#111" stroke-width="1" /><text x="288.20" y="286.94" font-size="10" fill="#3c9b3c" text-anchor="end" >L1101S</text><line x1="289.20" y1="300.16" x2="293.00" y2="300.16" stroke="#111" stroke-width="1" /><text x="288.20" y="303.76" font-size="10" fill="#3c9b3c" text-anchor="end" >E1103G</text><line x1="289.20" y1="316.98" x2="293.00" y2="316.98" stroke="#111" stroke-width="1" /><text x="288.20" y="320.58" font-size="10" fill="#3c9b3c" text-anchor="end" >S713P</text><line x1="289.20" y1="333.80" x2="293.00" y2="333.80" stroke="#111" stroke-width="1" /><text x="288.20" y="337.40" font-size="10" fill="#3c9b3c" text-anchor="end" >T834P</text><line x1="289.20" y1="350.62" x2="293.00" y2="350.62" stroke="#111" stroke-width="1" /><text x="288.20" y="354.22" font-size="10" fill="#3c9b3c" text-anchor="end" >Y769F</text><text x="0" y="0" font-size="9.9" fill="#3c9b3c" text-anchor="middle" transform="translate(245.70,297.60) rotate(-90)">GOF targets</text><text x="137.00" y="403.60" font-size="9.65" fill="#111" text-anchor="middle" >with GOF substitutions</text><rect x="66.70" y="413.20" width="98.06" height="9.80" fill="#e8781e" /><rect x="164.76" y="413.20" width="7.75" height="9.80" fill="#ebebeb" /><rect x="172.51" y="413.20" width="27.79" height="9.80" fill="#000000" /><rect x="66.70" y="413.20" width="133.60" height="9.80" fill="none" stroke="#8a8a8a" stroke-width="0.8"/><line x1="164.76" y1="413.20" x2="164.76" y2="423.00" stroke="#8a8a8a" stroke-width="0.6" /><line x1="172.51" y1="413.20" x2="172.51" y2="423.00" stroke="#8a8a8a" stroke-width="0.6" /><rect x="66.70" y="429.55" width="22.58" height="9.80" fill="#e8781e" /><rect x="89.28" y="429.55" width="31.13" height="9.80" fill="#ebebeb" /><rect x="120.41" y="429.55" width="11.22" height="9.80" fill="#7451b0" /><rect x="131.63" y="429.55" width="68.67" height="9.80" fill="#000000" /><rect x="66.70" y="429.55" width="133.60" height="9.80" fill="none" stroke="#8a8a8a" stroke-width="0.8"/><line x1="89.28" y1="429.55" x2="89.28" y2="439.35" stroke="#8a8a8a" stroke-width="0.6" /><line x1="120.41" y1="429.55" x2="120.41" y2="439.35" stroke="#8a8a8a" stroke-width="0.6" /><line x1="131.63" y1="429.55" x2="131.63" y2="439.35" stroke="#8a8a8a" stroke-width="0.6" /><rect x="66.70" y="445.90" width="107.95" height="9.80" fill="#e8781e" /><rect x="174.65" y="445.90" width="7.62" height="9.80" fill="#ebebeb" /><rect x="182.26" y="445.90" width="18.04" height="9.80" fill="#000000" /><rect x="66.70" y="445.90" width="133.60" height="9.80" fill="none" stroke="#8a8a8a" stroke-width="0.8"/><line x1="174.65" y1="445.90" x2="174.65" y2="455.70" stroke="#8a8a8a" stroke-width="0.6" /><line x1="182.26" y1="445.90" x2="182.26" y2="455.70" stroke="#8a8a8a" stroke-width="0.6" /><rect x="66.70" y="462.25" width="91.12" height="9.80" fill="#e8781e" /><rect x="157.82" y="462.25" width="12.83" height="9.80" fill="#ebebeb" /><rect x="170.64" y="462.25" width="29.66" height="9.80" fill="#000000" /><rect x="66.70" y="462.25" width="133.60" height="9.80" fill="none" stroke="#8a8a8a" stroke-width="0.8"/><line x1="157.82" y1="462.25" x2="157.82" y2="472.05" stroke="#8a8a8a" stroke-width="0.6" /><line x1="170.64" y1="462.25" x2="170.64" y2="472.05" stroke="#8a8a8a" stroke-width="0.6" /><rect x="66.70" y="478.60" width="88.04" height="9.80" fill="#e8781e" /><rect x="154.74" y="478.60" width="14.03" height="9.80" fill="#ebebeb" /><rect x="168.77" y="478.60" width="2.27" height="9.80" fill="#7451b0" /><rect x="171.04" y="478.60" width="29.26" height="9.80" fill="#000000" /><rect x="66.70" y="478.60" width="133.60" height="9.80" fill="none" stroke="#8a8a8a" stroke-width="0.8"/><line x1="154.74" y1="478.60" x2="154.74" y2="488.40" stroke="#8a8a8a" stroke-width="0.6" /><line x1="168.77" y1="478.60" x2="168.77" y2="488.40" stroke="#8a8a8a" stroke-width="0.6" /><line x1="171.04" y1="478.60" x2="171.04" y2="488.40" stroke="#8a8a8a" stroke-width="0.6" /><line x1="171.84" y1="425.40" x2="201.10" y2="425.40" stroke="#2d72b8" stroke-width="2" /><line x1="119.87" y1="441.75" x2="201.10" y2="441.75" stroke="#2d72b8" stroke-width="2" /><line x1="181.86" y1="458.10" x2="201.10" y2="458.10" stroke="#2d72b8" stroke-width="2" /><line x1="171.84" y1="474.45" x2="201.10" y2="474.45" stroke="#2d72b8" stroke-width="2" /><line x1="168.37" y1="490.80" x2="201.10" y2="490.80" stroke="#2d72b8" stroke-width="2" /><line x1="66.70" y1="407.80" x2="66.70" y2="494.90" stroke="#111" stroke-width="1.2" /><line x1="66.10" y1="494.30" x2="206.80" y2="494.30" stroke="#111" stroke-width="1.2" /><line x1="66.70" y1="494.30" x2="66.70" y2="496.70" stroke="#111" stroke-width="1" /><text x="66.70" y="506.50" font-size="9.6" fill="#111" text-anchor="middle" >0</text><line x1="93.42" y1="494.30" x2="93.42" y2="496.70" stroke="#111" stroke-width="1" /><text x="93.42" y="506.50" font-size="9.6" fill="#111" text-anchor="middle" >20</text><line x1="120.14" y1="494.30" x2="120.14" y2="496.70" stroke="#111" stroke-width="1" /><text x="120.14" y="506.50" font-size="9.6" fill="#111" text-anchor="middle" >40</text><line x1="146.86" y1="494.30" x2="146.86" y2="496.70" stroke="#111" stroke-width="1" /><text x="146.86" y="506.50" font-size="9.6" fill="#111" text-anchor="middle" >60</text><line x1="173.58" y1="494.30" x2="173.58" y2="496.70" stroke="#111" stroke-width="1" /><text x="173.58" y="506.50" font-size="9.6" fill="#111" text-anchor="middle" >80</text><line x1="200.30" y1="494.30" x2="200.30" y2="496.70" stroke="#111" stroke-width="1" /><text x="200.30" y="506.50" font-size="9.6" fill="#111" text-anchor="middle" >100</text><text x="137.10" y="518.80" font-size="9.6" fill="#111" text-anchor="middle" >Percent</text><line x1="62.90" y1="418.10" x2="66.70" y2="418.10" stroke="#111" stroke-width="1" /><text x="61.90" y="421.70" font-size="10" fill="#2020f0" text-anchor="end" >H1085Y</text><line x1="62.90" y1="434.45" x2="66.70" y2="434.45" stroke="#111" stroke-width="1" /><text x="61.90" y="438.05" font-size="10" fill="#2020f0" text-anchor="end" >H1085L</text><line x1="62.90" y1="450.80" x2="66.70" y2="450.80" stroke="#111" stroke-width="1" /><text x="61.90" y="454.40" font-size="10" fill="#2020f0" text-anchor="end" >N1082S</text><line x1="62.90" y1="467.15" x2="66.70" y2="467.15" stroke="#111" stroke-width="1" /><text x="61.90" y="470.75" font-size="10" fill="#2020f0" text-anchor="end" >Q1078S</text><line x1="62.90" y1="483.50" x2="66.70" y2="483.50" stroke="#111" stroke-width="1" /><text x="61.90" y="487.10" font-size="10" fill="#2020f0" text-anchor="end" >T834A</text><text x="0" y="0" font-size="9.9" fill="#2020f0" text-anchor="middle" transform="translate(19.80,448.70) rotate(-90)">LOF targets</text><text x="362.80" y="405.50" font-size="9.65" fill="#111" text-anchor="middle" >with LOF substitutions</text><rect x="292.50" y="414.40" width="130.82" height="9.90" fill="#000000" /><rect x="423.32" y="414.40" width="1.87" height="9.90" fill="#ebebeb" /><rect x="425.19" y="414.40" width="1.21" height="9.90" fill="#9a9a9a" /><rect x="292.50" y="414.40" width="133.90" height="9.90" fill="none" stroke="#8a8a8a" stroke-width="0.8"/><line x1="423.32" y1="414.40" x2="423.32" y2="424.30" stroke="#8a8a8a" stroke-width="0.6" /><line x1="425.19" y1="414.40" x2="425.19" y2="424.30" stroke="#8a8a8a" stroke-width="0.6" /><rect x="292.50" y="430.90" width="100.42" height="9.90" fill="#000000" /><rect x="392.92" y="430.90" width="6.56" height="9.90" fill="#7451b0" /><rect x="399.49" y="430.90" width="20.62" height="9.90" fill="#ebebeb" /><rect x="420.11" y="430.90" width="6.29" height="9.90" fill="#e8781e" /><rect x="292.50" y="430.90" width="133.90" height="9.90" fill="none" stroke="#8a8a8a" stroke-width="0.8"/><line x1="392.92" y1="430.90" x2="392.92" y2="440.80" stroke="#8a8a8a" stroke-width="0.6" /><line x1="399.49" y1="430.90" x2="399.49" y2="440.80" stroke="#8a8a8a" stroke-width="0.6" /><line x1="420.11" y1="430.90" x2="420.11" y2="440.80" stroke="#8a8a8a" stroke-width="0.6" /><rect x="292.50" y="447.40" width="132.56" height="9.90" fill="#000000" /><rect x="425.06" y="447.40" width="1.34" height="9.90" fill="#9a9a9a" /><rect x="292.50" y="447.40" width="133.90" height="9.90" fill="none" stroke="#8a8a8a" stroke-width="0.8"/><line x1="425.06" y1="447.40" x2="425.06" y2="457.30" stroke="#8a8a8a" stroke-width="0.6" /><rect x="292.50" y="463.90" width="131.62" height="9.90" fill="#000000" /><rect x="424.12" y="463.90" width="2.28" height="9.90" fill="#e8781e" /><rect x="292.50" y="463.90" width="133.90" height="9.90" fill="none" stroke="#8a8a8a" stroke-width="0.8"/><line x1="424.12" y1="463.90" x2="424.12" y2="473.80" stroke="#8a8a8a" stroke-width="0.6" /><rect x="292.50" y="480.40" width="126.67" height="9.90" fill="#000000" /><rect x="419.17" y="480.40" width="4.15" height="9.90" fill="#ebebeb" /><rect x="423.32" y="480.40" width="3.08" height="9.90" fill="#e8781e" /><rect x="292.50" y="480.40" width="133.90" height="9.90" fill="none" stroke="#8a8a8a" stroke-width="0.8"/><line x1="419.17" y1="480.40" x2="419.17" y2="490.30" stroke="#8a8a8a" stroke-width="0.6" /><line x1="423.32" y1="480.40" x2="423.32" y2="490.30" stroke="#8a8a8a" stroke-width="0.6" /><line x1="419.84" y1="443.20" x2="427.90" y2="443.20" stroke="#d42a2a" stroke-width="2.3" /><line x1="423.05" y1="476.20" x2="427.90" y2="476.20" stroke="#d42a2a" stroke-width="2.3" /><line x1="423.05" y1="492.70" x2="427.90" y2="492.70" stroke="#d42a2a" stroke-width="2.3" /><line x1="292.50" y1="409.70" x2="292.50" y2="496.50" stroke="#111" stroke-width="1.2" /><line x1="291.90" y1="495.90" x2="433.40" y2="495.90" stroke="#111" stroke-width="1.2" /><line x1="292.50" y1="495.90" x2="292.50" y2="498.30" stroke="#111" stroke-width="1" /><text x="292.50" y="508.00" font-size="9.6" fill="#111" text-anchor="middle" >0</text><line x1="319.28" y1="495.90" x2="319.28" y2="498.30" stroke="#111" stroke-width="1" /><text x="319.28" y="508.00" font-size="9.6" fill="#111" text-anchor="middle" >20</text><line x1="346.06" y1="495.90" x2="346.06" y2="498.30" stroke="#111" stroke-width="1" /><text x="346.06" y="508.00" font-size="9.6" fill="#111" text-anchor="middle" >40</text><line x1="372.84" y1="495.90" x2="372.84" y2="498.30" stroke="#111" stroke-width="1" /><text x="372.84" y="508.00" font-size="9.6" fill="#111" text-anchor="middle" >60</text><line x1="399.62" y1="495.90" x2="399.62" y2="498.30" stroke="#111" stroke-width="1" /><text x="399.62" y="508.00" font-size="9.6" fill="#111" text-anchor="middle" >80</text><line x1="426.40" y1="495.90" x2="426.40" y2="498.30" stroke="#111" stroke-width="1" /><text x="426.40" y="508.00" font-size="9.6" fill="#111" text-anchor="middle" >100</text><text x="363.05" y="521.10" font-size="9.6" fill="#111" text-anchor="middle" >Percent</text><line x1="288.70" y1="419.35" x2="292.50" y2="419.35" stroke="#111" stroke-width="1" /><text x="287.70" y="422.95" font-size="10" fill="#2020f0" text-anchor="end" >H1085Y</text><line x1="288.70" y1="435.85" x2="292.50" y2="435.85" stroke="#111" stroke-width="1" /><text x="287.70" y="439.45" font-size="10" fill="#2020f0" text-anchor="end" >H1085L</text><line x1="288.70" y1="452.35" x2="292.50" y2="452.35" stroke="#111" stroke-width="1" /><text x="287.70" y="455.95" font-size="10" fill="#2020f0" text-anchor="end" >N1082S</text><line x1="288.70" y1="468.85" x2="292.50" y2="468.85" stroke="#111" stroke-width="1" /><text x="287.70" y="472.45" font-size="10" fill="#2020f0" text-anchor="end" >Q1078S</text><line x1="288.70" y1="485.35" x2="292.50" y2="485.35" stroke="#111" stroke-width="1" /><text x="287.70" y="488.95" font-size="10" fill="#2020f0" text-anchor="end" >T834A</text><text x="0" y="0" font-size="9.9" fill="#2020f0" text-anchor="middle" transform="translate(245.20,449.80) rotate(-90)">LOF targets</text><rect x="433.4" y="240.80" width="9.4" height="9.2" fill="#e8781e" stroke="#8a8a8a" stroke-width="0.8"/><text x="448.00" y="249.10" font-size="10.45" fill="#222" text-anchor="start" >Positive</text><rect x="433.4" y="252.65" width="9.4" height="9.2" fill="#ebebeb" stroke="#8a8a8a" stroke-width="0.8"/><text x="448.00" y="260.95" font-size="10.45" fill="#222" text-anchor="start" >Additive</text><rect x="433.4" y="264.50" width="9.4" height="9.2" fill="#7451b0" stroke="#8a8a8a" stroke-width="0.8"/><text x="448.00" y="272.80" font-size="10.45" fill="#222" text-anchor="start" >Synthetic sick</text><rect x="433.4" y="276.35" width="9.4" height="9.2" fill="#000" stroke="#8a8a8a" stroke-width="0.8"/><text x="448.00" y="284.65" font-size="10.45" fill="#222" text-anchor="start" >Synthetic lethal</text><line x1="432.40" y1="291.20" x2="443.80" y2="291.20" stroke="#d42a2a" stroke-width="2" /><text x="448.00" y="294.80" font-size="10.45" fill="#222" text-anchor="start" >Epistasis</text><line x1="432.40" y1="303.20" x2="443.80" y2="303.20" stroke="#2d72b8" stroke-width="2" /><text x="448.00" y="306.80" font-size="10.45" fill="#222" text-anchor="start" >Sign Epistasis</text><text x="0.60" y="232.60" font-size="17.8" fill="#000" font-weight="bold" text-anchor="start" >b</text>
<text x="1.30" y="550.60" font-size="17.8" fill="#000" font-weight="bold" text-anchor="start" >c</text><text x="21.80" y="552.30" font-size="18.8" fill="#000" font-weight="bold" text-anchor="start" >TL functional interaction landscape</text><rect x="18.90" y="578.10" width="108.50" height="4.40" fill="#1a1aff" /><rect x="129.20" y="578.10" width="42.90" height="4.40" fill="#1a1aff" /><rect x="173.90" y="578.10" width="60.50" height="4.40" fill="#3a9a2a" /><text x="69.00" y="576.50" font-size="14.8" fill="#1a1aff" font-weight="bold" text-anchor="middle" >LOF</text><text x="149.10" y="576.50" font-size="14.8" fill="#1a1aff" font-weight="bold" text-anchor="middle" >LOF</text><text x="204.20" y="576.50" font-size="14.8" fill="#3a9a2a" font-weight="bold" text-anchor="middle" >GOF</text><text x="239.90" y="584.30" font-size="11.7" fill="#111" font-weight="bold" text-anchor="start" >TL single mutants</text><rect x="18.90" y="775.30" width="108.50" height="4.40" fill="#1a1aff" /><rect x="129.20" y="775.30" width="42.90" height="4.40" fill="#1a1aff" /><rect x="173.90" y="775.30" width="60.50" height="4.40" fill="#3a9a2a" /><text x="69.00" y="773.50" font-size="14.8" fill="#1a1aff" font-weight="bold" text-anchor="middle" >LOF</text><text x="149.10" y="773.50" font-size="14.8" fill="#1a1aff" font-weight="bold" text-anchor="middle" >LOF</text><text x="204.20" y="773.50" font-size="14.8" fill="#3a9a2a" font-weight="bold" text-anchor="middle" >GOF</text><text x="239.90" y="779.30" font-size="11.7" fill="#111" font-weight="bold" text-anchor="start" >TL single mutants</text><rect x="19.00" y="590.10" width="0.80" height="17.90" fill="#ffffff" /><rect x="19.80" y="590.10" width="1.20" height="17.90" fill="#3c3c3c" /><rect x="21.00" y="590.10" width="2.80" height="17.90" fill="#ffffff" /><rect x="23.80" y="590.10" width="1.00" height="17.90" fill="#858585" /><rect x="24.80" y="590.10" width="22.30" height="17.90" fill="#ffffff" /><rect x="26.99" y="590.10" width="1.02" height="17.90" fill="#f3e2d6" /><rect x="28.87" y="590.10" width="1.00" height="17.90" fill="#f3e2d6" /><rect x="31.10" y="590.10" width="0.74" height="17.90" fill="#f3e2d6" /><rect x="33.07" y="590.10" width="1.20" height="17.90" fill="#f3e2d6" /><rect x="39.53" y="590.10" width="1.22" height="17.90" fill="#f3e2d6" /><rect x="41.69" y="590.10" width="0.77" height="17.90" fill="#f3e2d6" /><rect x="47.10" y="590.10" width="1.80" height="17.90" fill="#dcd5f1" /><rect x="48.90" y="590.10" width="6.40" height="17.90" fill="#ffffff" /><rect x="55.30" y="590.10" width="25.70" height="17.90" fill="#0b0b0b" /><rect x="81.00" y="590.10" width="13.60" height="17.90" fill="#ffffff" /><rect x="92.32" y="590.10" width="1.29" height="17.90" fill="#f3e2d6" /><rect x="94.60" y="590.10" width="9.00" height="17.90" fill="#ffffff" /><rect x="95.56" y="590.10" width="0.79" height="17.90" fill="#f4d6c0" /><rect x="99.66" y="590.10" width="1.23" height="17.90" fill="#f4d6c0" /><rect x="102.38" y="590.10" width="1.06" height="17.90" fill="#f4d6c0" /><rect x="103.60" y="590.10" width="6.70" height="17.90" fill="#0b0b0b" /><rect x="110.30" y="590.10" width="1.50" height="17.90" fill="#ffffff" /><rect x="111.80" y="590.10" width="2.00" height="17.90" fill="#eb9a5e" /><rect x="113.80" y="590.10" width="3.00" height="17.90" fill="#ffffff" /><rect x="116.80" y="590.10" width="33.50" height="17.90" fill="#0b0b0b" /><rect x="150.30" y="590.10" width="1.50" height="17.90" fill="#858585" /><rect x="151.80" y="590.10" width="56.50" height="17.90" fill="#0b0b0b" /><rect x="208.30" y="590.10" width="0.80" height="17.90" fill="#ffffff" /><rect x="209.10" y="590.10" width="15.80" height="17.90" fill="#0b0b0b" /><rect x="224.90" y="590.10" width="1.00" height="17.90" fill="#ffffff" /><rect x="225.90" y="590.10" width="11.10" height="17.90" fill="#0b0b0b" /><rect x="19.00" y="610.00" width="0.90" height="20.20" fill="#ffffff" /><rect x="19.90" y="610.00" width="0.90" height="20.20" fill="#dcd5f1" /><rect x="20.80" y="610.00" width="2.20" height="20.20" fill="#f5d1b8" /><rect x="23.00" y="610.00" width="30.80" height="20.20" fill="#ffffff" /><rect x="53.80" y="610.00" width="0.80" height="20.20" fill="#f5d1b8" /><rect x="54.60" y="610.00" width="10.50" height="20.20" fill="#ffffff" /><rect x="65.10" y="610.00" width="0.80" height="20.20" fill="#dcd5f1" /><rect x="65.90" y="610.00" width="13.60" height="20.20" fill="#ffffff" /><rect x="66.94" y="610.00" width="1.27" height="20.20" fill="#f1c6a6" /><rect x="74.23" y="610.00" width="0.93" height="20.20" fill="#f1c6a6" /><rect x="75.99" y="610.00" width="0.98" height="20.20" fill="#f1c6a6" /><rect x="79.50" y="610.00" width="13.50" height="20.20" fill="#ffffff" /><rect x="93.00" y="610.00" width="22.60" height="20.20" fill="#ffffff" /><rect x="95.26" y="610.00" width="0.97" height="20.20" fill="#f1c6a6" /><rect x="100.19" y="610.00" width="0.95" height="20.20" fill="#f1c6a6" /><rect x="102.82" y="610.00" width="1.27" height="20.20" fill="#f1c6a6" /><rect x="105.07" y="610.00" width="0.84" height="20.20" fill="#f1c6a6" /><rect x="107.19" y="610.00" width="1.05" height="20.20" fill="#f1c6a6" /><rect x="109.05" y="610.00" width="0.95" height="20.20" fill="#f1c6a6" /><rect x="111.37" y="610.00" width="1.27" height="20.20" fill="#f1c6a6" /><rect x="113.96" y="610.00" width="1.07" height="20.20" fill="#f1c6a6" /><rect x="115.60" y="610.00" width="7.50" height="20.20" fill="#ffffff" /><rect x="119.47" y="610.00" width="0.94" height="20.20" fill="#e4def6" /><rect x="121.30" y="610.00" width="1.08" height="20.20" fill="#e4def6" /><rect x="123.10" y="610.00" width="3.00" height="20.20" fill="#0b0b0b" /><rect x="126.10" y="610.00" width="2.30" height="20.20" fill="#dcd5f1" /><rect x="128.40" y="610.00" width="4.60" height="20.20" fill="#0b0b0b" /><rect x="133.00" y="610.00" width="3.00" height="20.20" fill="#f8f7fd" /><rect x="136.00" y="610.00" width="2.30" height="20.20" fill="#0b0b0b" /><rect x="138.30" y="610.00" width="3.00" height="20.20" fill="#dcd5f1" /><rect x="141.30" y="610.00" width="0.70" height="20.20" fill="#0b0b0b" /><rect x="142.00" y="610.00" width="3.00" height="20.20" fill="#f8f7fd" /><rect x="145.00" y="610.00" width="1.20" height="20.20" fill="#0b0b0b" /><rect x="146.20" y="610.00" width="4.80" height="20.20" fill="#ffffff" /><rect x="146.61" y="610.00" width="0.80" height="20.20" fill="#e4def6" /><rect x="148.26" y="610.00" width="0.70" height="20.20" fill="#e4def6" /><rect x="149.86" y="610.00" width="0.92" height="20.20" fill="#e4def6" /><rect x="151.00" y="610.00" width="12.10" height="20.20" fill="#0b0b0b" /><rect x="163.10" y="610.00" width="1.50" height="20.20" fill="#f5d1b8" /><rect x="164.60" y="610.00" width="3.80" height="20.20" fill="#ffffff" /><rect x="168.40" y="610.00" width="2.20" height="20.20" fill="#0b0b0b" /><rect x="170.60" y="610.00" width="1.90" height="20.20" fill="#a999d9" /><rect x="172.50" y="610.00" width="3.60" height="20.20" fill="#ffffff" /><rect x="176.10" y="610.00" width="1.60" height="20.20" fill="#858585" /><rect x="177.70" y="610.00" width="1.00" height="20.20" fill="#0b0b0b" /><rect x="178.70" y="610.00" width="2.00" height="20.20" fill="#a999d9" /><rect x="180.70" y="610.00" width="1.60" height="20.20" fill="#0b0b0b" /><rect x="182.30" y="610.00" width="2.50" height="20.20" fill="#a999d9" /><rect x="184.80" y="610.00" width="1.50" height="20.20" fill="#0b0b0b" /><rect x="186.30" y="610.00" width="1.60" height="20.20" fill="#ffffff" /><rect x="187.90" y="610.00" width="2.00" height="20.20" fill="#a999d9" /><rect x="189.90" y="610.00" width="1.60" height="20.20" fill="#f8f7fd" /><rect x="191.50" y="610.00" width="2.50" height="20.20" fill="#dcd5f1" /><rect x="194.00" y="610.00" width="14.80" height="20.20" fill="#0b0b0b" /><rect x="208.80" y="610.00" width="3.10" height="20.20" fill="#a999d9" /><rect x="211.90" y="610.00" width="4.60" height="20.20" fill="#0b0b0b" /><rect x="216.50" y="610.00" width="3.10" height="20.20" fill="#a999d9" /><rect x="219.60" y="610.00" width="4.00" height="20.20" fill="#0b0b0b" /><rect x="223.60" y="610.00" width="2.60" height="20.20" fill="#a999d9" /><rect x="226.20" y="610.00" width="3.10" height="20.20" fill="#0b0b0b" /><rect x="229.30" y="610.00" width="2.50" height="20.20" fill="#a999d9" /><rect x="231.80" y="610.00" width="2.60" height="20.20" fill="#0b0b0b" /><rect x="234.40" y="610.00" width="2.60" height="20.20" fill="#dcd5f1" /><rect x="19.00" y="630.20" width="0.70" height="20.20" fill="#ffffff" /><rect x="19.70" y="630.20" width="1.10" height="20.20" fill="#0b0b0b" /><rect x="20.80" y="630.20" width="3.00" height="20.20" fill="#e87c32" /><rect x="23.80" y="630.20" width="24.80" height="20.20" fill="#ffffff" /><rect x="24.61" y="630.20" width="0.79" height="20.20" fill="#e4def6" /><rect x="26.55" y="630.20" width="0.92" height="20.20" fill="#e4def6" /><rect x="29.12" y="630.20" width="1.30" height="20.20" fill="#e4def6" /><rect x="31.70" y="630.20" width="0.75" height="20.20" fill="#e4def6" /><rect x="41.75" y="630.20" width="1.12" height="20.20" fill="#e4def6" /><rect x="46.17" y="630.20" width="1.17" height="20.20" fill="#e4def6" /><rect x="48.60" y="630.20" width="5.20" height="20.20" fill="#f5d1b8" /><rect x="49.87" y="630.20" width="1.58" height="20.20" fill="#eeab7c" /><rect x="53.80" y="630.20" width="3.80" height="20.20" fill="#eb9a5e" /><rect x="55.08" y="630.20" width="1.34" height="20.20" fill="#f4c7a6" /><rect x="57.60" y="630.20" width="3.80" height="20.20" fill="#ffffff" /><rect x="58.16" y="630.20" width="0.72" height="20.20" fill="#f1c6a6" /><rect x="59.95" y="630.20" width="0.86" height="20.20" fill="#f1c6a6" /><rect x="61.40" y="630.20" width="3.70" height="20.20" fill="#f5d1b8" /><rect x="62.24" y="630.20" width="1.54" height="20.20" fill="#eeab7c" /><rect x="65.10" y="630.20" width="15.20" height="20.20" fill="#e87c32" /><rect x="65.84" y="630.20" width="0.82" height="20.20" fill="#f2b78e" /><rect x="67.81" y="630.20" width="0.80" height="20.20" fill="#e57425" /><rect x="71.04" y="630.20" width="1.44" height="20.20" fill="#f2b78e" /><rect x="74.45" y="630.20" width="1.40" height="20.20" fill="#f2b78e" /><rect x="77.84" y="630.20" width="1.51" height="20.20" fill="#e57425" /><rect x="80.30" y="630.20" width="5.20" height="20.20" fill="#ffffff" /><rect x="85.50" y="630.20" width="10.60" height="20.20" fill="#eb9a5e" /><rect x="86.28" y="630.20" width="1.55" height="20.20" fill="#e78741" /><rect x="88.93" y="630.20" width="0.73" height="20.20" fill="#f4c7a6" /><rect x="92.09" y="630.20" width="1.41" height="20.20" fill="#f4c7a6" /><rect x="96.10" y="630.20" width="19.50" height="20.20" fill="#e87c32" /><rect x="97.58" y="630.20" width="1.26" height="20.20" fill="#f2b78e" /><rect x="100.62" y="630.20" width="0.73" height="20.20" fill="#f2b78e" /><rect x="103.90" y="630.20" width="1.25" height="20.20" fill="#f2b78e" /><rect x="107.63" y="630.20" width="1.03" height="20.20" fill="#e57425" /><rect x="110.95" y="630.20" width="0.81" height="20.20" fill="#f2b78e" /><rect x="113.09" y="630.20" width="0.84" height="20.20" fill="#e57425" /><rect x="115.60" y="630.20" width="7.50" height="20.20" fill="#efb48c" /><rect x="116.40" y="630.20" width="0.73" height="20.20" fill="#ea985f" /><rect x="118.57" y="630.20" width="1.06" height="20.20" fill="#ea985f" /><rect x="122.06" y="630.20" width="1.02" height="20.20" fill="#ea985f" /><rect x="123.10" y="630.20" width="14.40" height="20.20" fill="#0b0b0b" /><rect x="137.50" y="630.20" width="13.50" height="20.20" fill="#ffffff" /><rect x="138.23" y="630.20" width="1.01" height="20.20" fill="#f1c6a6" /><rect x="140.49" y="630.20" width="0.81" height="20.20" fill="#f1c6a6" /><rect x="142.90" y="630.20" width="0.80" height="20.20" fill="#f1c6a6" /><rect x="145.22" y="630.20" width="1.03" height="20.20" fill="#f1c6a6" /><rect x="149.52" y="630.20" width="1.04" height="20.20" fill="#f1c6a6" /><rect x="151.00" y="630.20" width="24.10" height="20.20" fill="#0b0b0b" /><rect x="175.10" y="630.20" width="2.30" height="20.20" fill="#e87c32" /><rect x="177.40" y="630.20" width="59.60" height="20.20" fill="#0b0b0b" /><rect x="19.00" y="650.40" width="1.80" height="20.20" fill="#ffffff" /><rect x="20.80" y="650.40" width="2.20" height="20.20" fill="#eb9a5e" /><rect x="23.00" y="650.40" width="10.50" height="20.20" fill="#ffffff" /><rect x="33.50" y="650.40" width="1.50" height="20.20" fill="#0b0b0b" /><rect x="35.00" y="650.40" width="14.30" height="20.20" fill="#ffffff" /><rect x="49.30" y="650.40" width="4.50" height="20.20" fill="#f5d1b8" /><rect x="50.53" y="650.40" width="1.11" height="20.20" fill="#eeab7c" /><rect x="53.80" y="650.40" width="4.60" height="20.20" fill="#eb9a5e" /><rect x="55.19" y="650.40" width="1.04" height="20.20" fill="#e78741" /><rect x="58.40" y="650.40" width="8.20" height="20.20" fill="#f5d1b8" /><rect x="59.31" y="650.40" width="1.29" height="20.20" fill="#fae6d8" /><rect x="62.37" y="650.40" width="1.08" height="20.20" fill="#eeab7c" /><rect x="65.50" y="650.40" width="1.10" height="20.20" fill="#eeab7c" /><rect x="66.60" y="650.40" width="12.20" height="20.20" fill="#eb9a5e" /><rect x="67.57" y="650.40" width="1.54" height="20.20" fill="#e78741" /><rect x="70.16" y="650.40" width="0.72" height="20.20" fill="#f4c7a6" /><rect x="71.81" y="650.40" width="0.84" height="20.20" fill="#f4c7a6" /><rect x="74.66" y="650.40" width="1.38" height="20.20" fill="#e78741" /><rect x="77.12" y="650.40" width="1.32" height="20.20" fill="#e78741" /><rect x="78.80" y="650.40" width="7.50" height="20.20" fill="#ffffff" /><rect x="86.30" y="650.40" width="3.70" height="20.20" fill="#f5d1b8" /><rect x="87.66" y="650.40" width="1.57" height="20.20" fill="#fae6d8" /><rect x="90.00" y="650.40" width="25.60" height="20.20" fill="#eb9a5e" /><rect x="90.78" y="650.40" width="1.09" height="20.20" fill="#e78741" /><rect x="94.16" y="650.40" width="0.76" height="20.20" fill="#f4c7a6" /><rect x="96.65" y="650.40" width="0.94" height="20.20" fill="#f4c7a6" /><rect x="98.97" y="650.40" width="1.32" height="20.20" fill="#f4c7a6" /><rect x="102.09" y="650.40" width="1.04" height="20.20" fill="#f4c7a6" /><rect x="104.52" y="650.40" width="1.22" height="20.20" fill="#f4c7a6" /><rect x="106.66" y="650.40" width="1.59" height="20.20" fill="#e78741" /><rect x="110.80" y="650.40" width="0.70" height="20.20" fill="#f4c7a6" /><rect x="112.37" y="650.40" width="1.38" height="20.20" fill="#f4c7a6" /><rect x="114.78" y="650.40" width="0.82" height="20.20" fill="#e78741" /><rect x="115.60" y="650.40" width="7.50" height="20.20" fill="#f5d1b8" /><rect x="116.21" y="650.40" width="0.75" height="20.20" fill="#eeab7c" /><rect x="118.79" y="650.40" width="1.30" height="20.20" fill="#fae6d8" /><rect x="120.99" y="650.40" width="1.29" height="20.20" fill="#fae6d8" /><rect x="123.10" y="650.40" width="2.70" height="20.20" fill="#3c3c3c" /><rect x="125.80" y="650.40" width="9.50" height="20.20" fill="#ffffff" /><rect x="135.30" y="650.40" width="2.20" height="20.20" fill="#858585" /><rect x="137.50" y="650.40" width="13.50" height="20.20" fill="#0b0b0b" /><rect x="151.00" y="650.40" width="3.80" height="20.20" fill="#858585" /><rect x="154.80" y="650.40" width="20.30" height="20.20" fill="#0b0b0b" /><rect x="175.10" y="650.40" width="9.20" height="20.20" fill="#ffffff" /><rect x="178.20" y="650.40" width="1.21" height="20.20" fill="#f4d6c0" /><rect x="181.08" y="650.40" width="0.97" height="20.20" fill="#f4d6c0" /><rect x="183.40" y="650.40" width="0.90" height="20.20" fill="#f4d6c0" /><rect x="184.30" y="650.40" width="1.00" height="20.20" fill="#a999d9" /><rect x="185.30" y="650.40" width="2.60" height="20.20" fill="#ffffff" /><rect x="187.90" y="650.40" width="2.00" height="20.20" fill="#0b0b0b" /><rect x="189.90" y="650.40" width="2.10" height="20.20" fill="#c8c8c8" /><rect x="192.00" y="650.40" width="2.00" height="20.20" fill="#0b0b0b" /><rect x="194.00" y="650.40" width="4.10" height="20.20" fill="#c8c8c8" /><rect x="198.10" y="650.40" width="1.00" height="20.20" fill="#858585" /><rect x="199.10" y="650.40" width="1.60" height="20.20" fill="#c8c8c8" /><rect x="200.70" y="650.40" width="2.00" height="20.20" fill="#3c3c3c" /><rect x="202.70" y="650.40" width="31.70" height="20.20" fill="#0b0b0b" /><rect x="234.40" y="650.40" width="2.60" height="20.20" fill="#8a80a8" /><rect x="19.00" y="670.60" width="0.70" height="20.20" fill="#ffffff" /><rect x="19.70" y="670.60" width="1.10" height="20.20" fill="#0b0b0b" /><rect x="20.80" y="670.60" width="2.20" height="20.20" fill="#f5d1b8" /><rect x="23.00" y="670.60" width="12.00" height="20.20" fill="#ffffff" /><rect x="23.73" y="670.60" width="0.84" height="20.20" fill="#e4def6" /><rect x="25.53" y="670.60" width="0.73" height="20.20" fill="#e4def6" /><rect x="29.35" y="670.60" width="1.00" height="20.20" fill="#e4def6" /><rect x="31.49" y="670.60" width="0.71" height="20.20" fill="#e4def6" /><rect x="35.00" y="670.60" width="3.00" height="20.20" fill="#a999d9" /><rect x="38.00" y="670.60" width="10.60" height="20.20" fill="#ffffff" /><rect x="48.60" y="670.60" width="10.50" height="20.20" fill="#f5d1b8" /><rect x="49.47" y="670.60" width="1.53" height="20.20" fill="#fae6d8" /><rect x="53.28" y="670.60" width="1.03" height="20.20" fill="#fae6d8" /><rect x="56.61" y="670.60" width="0.99" height="20.20" fill="#fae6d8" /><rect x="59.10" y="670.60" width="3.00" height="20.20" fill="#a999d9" /><rect x="62.10" y="670.60" width="15.90" height="20.20" fill="#f2c3a2" /><rect x="63.58" y="670.60" width="0.94" height="20.20" fill="#eca26e" /><rect x="66.59" y="670.60" width="1.24" height="20.20" fill="#f8decc" /><rect x="69.26" y="670.60" width="0.65" height="20.20" fill="#f8decc" /><rect x="70.84" y="670.60" width="1.34" height="20.20" fill="#f8decc" /><rect x="73.27" y="670.60" width="0.68" height="20.20" fill="#eca26e" /><rect x="76.32" y="670.60" width="1.27" height="20.20" fill="#f8decc" /><rect x="78.00" y="670.60" width="9.00" height="20.20" fill="#ffffff" /><rect x="78.49" y="670.60" width="0.98" height="20.20" fill="#e4def6" /><rect x="83.35" y="670.60" width="1.03" height="20.20" fill="#e4def6" /><rect x="86.14" y="670.60" width="0.86" height="20.20" fill="#e4def6" /><rect x="87.00" y="670.60" width="27.90" height="20.20" fill="#f2c3a2" /><rect x="87.76" y="670.60" width="1.07" height="20.20" fill="#f8decc" /><rect x="89.99" y="670.60" width="1.10" height="20.20" fill="#f8decc" /><rect x="92.37" y="670.60" width="0.69" height="20.20" fill="#f8decc" /><rect x="93.94" y="670.60" width="0.62" height="20.20" fill="#f8decc" /><rect x="95.78" y="670.60" width="1.19" height="20.20" fill="#f8decc" /><rect x="99.12" y="670.60" width="1.26" height="20.20" fill="#eca26e" /><rect x="102.76" y="670.60" width="0.99" height="20.20" fill="#f8decc" /><rect x="106.32" y="670.60" width="0.75" height="20.20" fill="#eca26e" /><rect x="109.03" y="670.60" width="0.64" height="20.20" fill="#eca26e" /><rect x="112.08" y="670.60" width="1.23" height="20.20" fill="#eca26e" /><rect x="114.90" y="670.60" width="18.90" height="20.20" fill="#0b0b0b" /><rect x="133.80" y="670.60" width="3.00" height="20.20" fill="#ffffff" /><rect x="136.80" y="670.60" width="34.20" height="20.20" fill="#0b0b0b" /><rect x="171.00" y="670.60" width="1.00" height="20.20" fill="#ffffff" /><rect x="172.00" y="670.60" width="2.10" height="20.20" fill="#0b0b0b" /><rect x="174.10" y="670.60" width="1.00" height="20.20" fill="#858585" /><rect x="175.10" y="670.60" width="12.80" height="20.20" fill="#0b0b0b" /><rect x="187.90" y="670.60" width="2.00" height="20.20" fill="#dcd5f1" /><rect x="189.90" y="670.60" width="24.60" height="20.20" fill="#0b0b0b" /><rect x="214.50" y="670.60" width="2.50" height="20.20" fill="#ffffff" /><rect x="217.00" y="670.60" width="1.00" height="20.20" fill="#0b0b0b" /><rect x="218.00" y="670.60" width="2.00" height="20.20" fill="#ffffff" /><rect x="220.00" y="670.60" width="1.60" height="20.20" fill="#0b0b0b" /><rect x="221.60" y="670.60" width="2.60" height="20.20" fill="#e87c32" /><rect x="224.20" y="670.60" width="1.30" height="20.20" fill="#858585" /><rect x="225.50" y="670.60" width="7.30" height="20.20" fill="#0b0b0b" /><rect x="232.80" y="670.60" width="4.20" height="20.20" fill="#ffffff" /><rect x="233.14" y="670.60" width="1.01" height="20.20" fill="#f4d6c0" /><rect x="19.00" y="690.80" width="0.70" height="20.20" fill="#ffffff" /><rect x="19.70" y="690.80" width="3.30" height="20.20" fill="#0b0b0b" /><rect x="23.00" y="690.80" width="80.60" height="20.20" fill="#ffffff" /><rect x="26.23" y="690.80" width="0.72" height="20.20" fill="#e4def6" /><rect x="32.79" y="690.80" width="0.99" height="20.20" fill="#e4def6" /><rect x="37.87" y="690.80" width="1.10" height="20.20" fill="#e4def6" /><rect x="40.50" y="690.80" width="0.85" height="20.20" fill="#e4def6" /><rect x="42.42" y="690.80" width="1.14" height="20.20" fill="#e4def6" /><rect x="45.09" y="690.80" width="1.29" height="20.20" fill="#e4def6" /><rect x="52.06" y="690.80" width="0.79" height="20.20" fill="#e4def6" /><rect x="56.09" y="690.80" width="0.74" height="20.20" fill="#e4def6" /><rect x="60.50" y="690.80" width="1.01" height="20.20" fill="#e4def6" /><rect x="69.40" y="690.80" width="0.97" height="20.20" fill="#e4def6" /><rect x="71.38" y="690.80" width="1.27" height="20.20" fill="#e4def6" /><rect x="80.92" y="690.80" width="1.24" height="20.20" fill="#e4def6" /><rect x="82.98" y="690.80" width="0.70" height="20.20" fill="#e4def6" /><rect x="84.93" y="690.80" width="0.88" height="20.20" fill="#e4def6" /><rect x="93.68" y="690.80" width="0.87" height="20.20" fill="#e4def6" /><rect x="98.20" y="690.80" width="0.96" height="20.20" fill="#e4def6" /><rect x="101.86" y="690.80" width="1.26" height="20.20" fill="#e4def6" /><rect x="103.60" y="690.80" width="11.30" height="20.20" fill="#0b0b0b" /><rect x="114.90" y="690.80" width="2.20" height="20.20" fill="#c8c8c8" /><rect x="117.10" y="690.80" width="1.80" height="20.20" fill="#0b0b0b" /><rect x="118.90" y="690.80" width="2.00" height="20.20" fill="#ffffff" /><rect x="120.90" y="690.80" width="3.00" height="20.20" fill="#858585" /><rect x="123.90" y="690.80" width="10.60" height="20.20" fill="#0b0b0b" /><rect x="134.50" y="690.80" width="2.30" height="20.20" fill="#c8c8c8" /><rect x="136.80" y="690.80" width="5.20" height="20.20" fill="#0b0b0b" /><rect x="142.00" y="690.80" width="7.60" height="20.20" fill="#dcd5f1" /><rect x="149.60" y="690.80" width="20.40" height="20.20" fill="#0b0b0b" /><rect x="170.00" y="690.80" width="1.00" height="20.20" fill="#c8c8c8" /><rect x="171.00" y="690.80" width="1.60" height="20.20" fill="#0b0b0b" /><rect x="172.60" y="690.80" width="2.00" height="20.20" fill="#ffffff" /><rect x="174.60" y="690.80" width="11.70" height="20.20" fill="#0b0b0b" /><rect x="186.30" y="690.80" width="2.10" height="20.20" fill="#c8c8c8" /><rect x="188.40" y="690.80" width="48.60" height="20.20" fill="#0b0b0b" /><rect x="19.00" y="711.00" width="1.80" height="20.20" fill="#ffffff" /><rect x="20.80" y="711.00" width="3.00" height="20.20" fill="#0b0b0b" /><rect x="23.80" y="711.00" width="9.70" height="20.20" fill="#ffffff" /><rect x="33.50" y="711.00" width="3.80" height="20.20" fill="#dcd5f1" /><rect x="37.30" y="711.00" width="20.30" height="20.20" fill="#ffffff" /><rect x="38.01" y="711.00" width="0.81" height="20.20" fill="#f3e2d6" /><rect x="45.84" y="711.00" width="1.13" height="20.20" fill="#f3e2d6" /><rect x="50.92" y="711.00" width="0.87" height="20.20" fill="#f3e2d6" /><rect x="53.52" y="711.00" width="0.78" height="20.20" fill="#f3e2d6" /><rect x="57.60" y="711.00" width="2.30" height="20.20" fill="#858585" /><rect x="59.90" y="711.00" width="16.60" height="20.20" fill="#f5d1b8" /><rect x="60.51" y="711.00" width="1.26" height="20.20" fill="#fae6d8" /><rect x="63.57" y="711.00" width="0.99" height="20.20" fill="#fae6d8" /><rect x="65.66" y="711.00" width="0.81" height="20.20" fill="#eeab7c" /><rect x="68.16" y="711.00" width="0.82" height="20.20" fill="#eeab7c" /><rect x="71.57" y="711.00" width="1.05" height="20.20" fill="#fae6d8" /><rect x="73.77" y="711.00" width="0.69" height="20.20" fill="#fae6d8" /><rect x="75.42" y="711.00" width="0.84" height="20.20" fill="#fae6d8" /><rect x="76.50" y="711.00" width="22.50" height="20.20" fill="#ffffff" /><rect x="77.59" y="711.00" width="1.15" height="20.20" fill="#f3e2d6" /><rect x="79.95" y="711.00" width="1.01" height="20.20" fill="#f3e2d6" /><rect x="82.10" y="711.00" width="0.74" height="20.20" fill="#f3e2d6" /><rect x="86.81" y="711.00" width="1.22" height="20.20" fill="#f3e2d6" /><rect x="89.10" y="711.00" width="0.85" height="20.20" fill="#f3e2d6" /><rect x="94.14" y="711.00" width="0.71" height="20.20" fill="#f3e2d6" /><rect x="96.37" y="711.00" width="1.24" height="20.20" fill="#f3e2d6" /><rect x="99.00" y="711.00" width="15.10" height="20.20" fill="#f5d1b8" /><rect x="99.30" y="711.00" width="0.99" height="20.20" fill="#eeab7c" /><rect x="102.58" y="711.00" width="1.46" height="20.20" fill="#eeab7c" /><rect x="105.28" y="711.00" width="0.71" height="20.20" fill="#fae6d8" /><rect x="107.73" y="711.00" width="1.28" height="20.20" fill="#eeab7c" /><rect x="111.11" y="711.00" width="1.25" height="20.20" fill="#eeab7c" /><rect x="114.10" y="711.00" width="9.00" height="20.20" fill="#ffffff" /><rect x="123.10" y="711.00" width="3.00" height="20.20" fill="#f5d1b8" /><rect x="126.10" y="711.00" width="6.90" height="20.20" fill="#dcd5f1" /><rect x="133.00" y="711.00" width="15.00" height="20.20" fill="#ffffff" /><rect x="137.86" y="711.00" width="0.78" height="20.20" fill="#e4def6" /><rect x="140.08" y="711.00" width="1.12" height="20.20" fill="#e4def6" /><rect x="145.91" y="711.00" width="0.88" height="20.20" fill="#e4def6" /><rect x="148.00" y="711.00" width="1.60" height="20.20" fill="#0b0b0b" /><rect x="149.60" y="711.00" width="3.70" height="20.20" fill="#a999d9" /><rect x="153.30" y="711.00" width="13.50" height="20.20" fill="#0b0b0b" /><rect x="166.80" y="711.00" width="6.30" height="20.20" fill="#ffffff" /><rect x="173.10" y="711.00" width="3.50" height="20.20" fill="#0b0b0b" /><rect x="176.60" y="711.00" width="3.60" height="20.20" fill="#ffffff" /><rect x="180.20" y="711.00" width="6.70" height="20.20" fill="#dcd5f1" /><rect x="186.90" y="711.00" width="3.50" height="20.20" fill="#ffffff" /><rect x="190.40" y="711.00" width="11.30" height="20.20" fill="#0b0b0b" /><rect x="201.70" y="711.00" width="1.80" height="20.20" fill="#858585" /><rect x="203.50" y="711.00" width="1.80" height="20.20" fill="#c8c8c8" /><rect x="205.30" y="711.00" width="3.50" height="20.20" fill="#f8f7fd" /><rect x="208.80" y="711.00" width="5.10" height="20.20" fill="#0b0b0b" /><rect x="213.90" y="711.00" width="1.60" height="20.20" fill="#858585" /><rect x="215.50" y="711.00" width="4.60" height="20.20" fill="#dcd5f1" /><rect x="220.10" y="711.00" width="2.00" height="20.20" fill="#ffffff" /><rect x="222.10" y="711.00" width="2.10" height="20.20" fill="#0b0b0b" /><rect x="224.20" y="711.00" width="1.50" height="20.20" fill="#a999d9" /><rect x="225.70" y="711.00" width="3.10" height="20.20" fill="#0b0b0b" /><rect x="228.80" y="711.00" width="5.10" height="20.20" fill="#c8c8c8" /><rect x="233.90" y="711.00" width="3.10" height="20.20" fill="#ffffff" /><rect x="140.90" y="670.60" width="0.80" height="20.20" fill="#c8c8c8" /><rect x="143.90" y="670.60" width="0.80" height="20.20" fill="#c8c8c8" /><rect x="152.90" y="670.60" width="0.80" height="20.20" fill="#858585" /><rect x="157.40" y="670.60" width="0.80" height="20.20" fill="#c8c8c8" /><rect x="162.70" y="670.60" width="0.80" height="20.20" fill="#858585" /><rect x="168.70" y="670.60" width="0.80" height="20.20" fill="#c8c8c8" /><rect x="171.00" y="670.60" width="0.80" height="20.20" fill="#ffffff" /><rect x="174.00" y="670.60" width="0.80" height="20.20" fill="#c8c8c8" /><rect x="205.60" y="670.60" width="0.80" height="20.20" fill="#858585" /><rect x="155.20" y="690.80" width="0.80" height="20.20" fill="#858585" /><rect x="167.20" y="690.80" width="0.80" height="20.20" fill="#ffffff" /><rect x="221.70" y="690.80" width="0.80" height="20.20" fill="#858585" /><rect x="227.30" y="690.80" width="0.80" height="20.20" fill="#858585" /><rect x="234.00" y="690.80" width="0.80" height="20.20" fill="#858585" /><rect x="187.45" y="630.20" width="0.90" height="20.20" fill="#858585" /><rect x="202.75" y="650.40" width="0.90" height="20.20" fill="#858585" /><rect x="206.85" y="650.40" width="0.90" height="20.20" fill="#858585" /><rect x="211.95" y="650.40" width="0.90" height="20.20" fill="#858585" /><rect x="221.65" y="650.40" width="0.90" height="20.20" fill="#858585" /><rect x="205.85" y="670.60" width="0.90" height="20.20" fill="#858585" /><rect x="18.00" y="589.10" width="292.20" height="142.80" fill="none" stroke="#8c8c8c" stroke-width="2"/><rect x="17.00" y="608.00" width="294.20" height="2.00" fill="#8c8c8c" /><rect x="243.70" y="590.70" width="2.80" height="16.70" fill="#3a9a2a" /><rect x="243.70" y="610.80" width="2.80" height="119.00" fill="#3a9a2a" /><text x="248.00" y="604.00" font-size="15.2" fill="#3a9a2a" font-weight="bold" text-anchor="start" >T834P</text><text x="248.00" y="625.40" font-size="15.2" fill="#3a9a2a" font-weight="bold" text-anchor="start" >S713P</text><text x="248.00" y="645.20" font-size="15.2" fill="#3a9a2a" font-weight="bold" text-anchor="start" >Y769F</text><text x="248.00" y="664.60" font-size="15.2" fill="#3a9a2a" font-weight="bold" text-anchor="start" >E1103G</text><text x="248.00" y="684.80" font-size="15.2" fill="#3a9a2a" font-weight="bold" text-anchor="start" >L1101S</text><text x="248.00" y="705.00" font-size="15.2" fill="#3a9a2a" font-weight="bold" text-anchor="start" >F1084I</text><text x="248.00" y="725.20" font-size="15.2" fill="#3a9a2a" font-weight="bold" text-anchor="start" >M1079V</text><rect x="19.00" y="786.70" width="1.30" height="18.20" fill="#ffffff" /><rect x="20.30" y="786.70" width="4.90" height="18.20" fill="#0b0b0b" /><rect x="25.20" y="786.70" width="1.10" height="18.20" fill="#858585" /><rect x="26.30" y="786.70" width="36.30" height="18.20" fill="#ffffff" /><rect x="27.14" y="786.70" width="1.23" height="18.20" fill="#e4def6" /><rect x="31.76" y="786.70" width="0.88" height="18.20" fill="#e4def6" /><rect x="33.95" y="786.70" width="1.10" height="18.20" fill="#e4def6" /><rect x="38.23" y="786.70" width="0.72" height="18.20" fill="#e4def6" /><rect x="40.18" y="786.70" width="1.11" height="18.20" fill="#e4def6" /><rect x="45.03" y="786.70" width="1.28" height="18.20" fill="#e4def6" /><rect x="47.93" y="786.70" width="0.84" height="18.20" fill="#e4def6" /><rect x="52.50" y="786.70" width="0.81" height="18.20" fill="#e4def6" /><rect x="56.58" y="786.70" width="0.94" height="18.20" fill="#e4def6" /><rect x="59.29" y="786.70" width="0.79" height="18.20" fill="#e4def6" /><rect x="62.60" y="786.70" width="40.40" height="18.20" fill="#0b0b0b" /><rect x="103.00" y="786.70" width="2.20" height="18.20" fill="#858585" /><rect x="105.20" y="786.70" width="1.70" height="18.20" fill="#0b0b0b" /><rect x="106.90" y="786.70" width="1.10" height="18.20" fill="#858585" /><rect x="108.00" y="786.70" width="6.60" height="18.20" fill="#0b0b0b" /><rect x="114.60" y="786.70" width="3.30" height="18.20" fill="#c8c8c8" /><rect x="117.90" y="786.70" width="5.50" height="18.20" fill="#0b0b0b" /><rect x="123.40" y="786.70" width="2.10" height="18.20" fill="#f9e4d5" /><rect x="125.50" y="786.70" width="10.20" height="18.20" fill="#ffffff" /><rect x="135.70" y="786.70" width="2.20" height="18.20" fill="#0b0b0b" /><rect x="137.90" y="786.70" width="6.60" height="18.20" fill="#ffffff" /><rect x="144.50" y="786.70" width="2.80" height="18.20" fill="#0b0b0b" /><rect x="147.30" y="786.70" width="1.60" height="18.20" fill="#c8c8c8" /><rect x="148.90" y="786.70" width="5.50" height="18.20" fill="#0b0b0b" /><rect x="154.40" y="786.70" width="1.70" height="18.20" fill="#858585" /><rect x="156.10" y="786.70" width="12.60" height="18.20" fill="#0b0b0b" /><rect x="168.70" y="786.70" width="5.50" height="18.20" fill="#ffffff" /><rect x="169.27" y="786.70" width="0.90" height="18.20" fill="#f1c6a6" /><rect x="170.98" y="786.70" width="0.87" height="18.20" fill="#f1c6a6" /><rect x="174.20" y="786.70" width="3.90" height="18.20" fill="#0b0b0b" /><rect x="178.10" y="786.70" width="12.00" height="18.20" fill="#ffffff" /><rect x="181.08" y="786.70" width="0.73" height="18.20" fill="#f4d6c0" /><rect x="182.98" y="786.70" width="1.25" height="18.20" fill="#f4d6c0" /><rect x="185.40" y="786.70" width="1.24" height="18.20" fill="#f4d6c0" /><rect x="190.10" y="786.70" width="18.80" height="18.20" fill="#0b0b0b" /><rect x="208.90" y="786.70" width="10.40" height="18.20" fill="#ffffff" /><rect x="219.30" y="786.70" width="1.70" height="18.20" fill="#0b0b0b" /><rect x="221.00" y="786.70" width="1.10" height="18.20" fill="#ffffff" /><rect x="222.10" y="786.70" width="1.60" height="18.20" fill="#0b0b0b" /><rect x="223.70" y="786.70" width="2.20" height="18.20" fill="#ffffff" /><rect x="225.90" y="786.70" width="1.70" height="18.20" fill="#3c3c3c" /><rect x="227.60" y="786.70" width="8.40" height="18.20" fill="#ffffff" /><rect x="19.00" y="807.10" width="1.30" height="20.05" fill="#ffffff" /><rect x="20.30" y="807.10" width="103.10" height="20.05" fill="#0b0b0b" /><rect x="123.40" y="807.10" width="2.70" height="20.05" fill="#f9e4d5" /><rect x="126.10" y="807.10" width="52.00" height="20.05" fill="#0b0b0b" /><rect x="178.10" y="807.10" width="12.10" height="20.05" fill="#f5d1b8" /><rect x="178.73" y="807.10" width="0.60" height="20.05" fill="#eeab7c" /><rect x="181.78" y="807.10" width="1.23" height="20.05" fill="#eeab7c" /><rect x="183.86" y="807.10" width="0.83" height="20.05" fill="#fae6d8" /><rect x="187.22" y="807.10" width="1.55" height="20.05" fill="#fae6d8" /><rect x="190.20" y="807.10" width="31.90" height="20.05" fill="#efb48c" /><rect x="191.02" y="807.10" width="1.09" height="20.05" fill="#ea985f" /><rect x="193.24" y="807.10" width="1.40" height="20.05" fill="#ea985f" /><rect x="196.92" y="807.10" width="1.37" height="20.05" fill="#ea985f" /><rect x="199.69" y="807.10" width="0.92" height="20.05" fill="#f6d6c0" /><rect x="202.81" y="807.10" width="0.68" height="20.05" fill="#f6d6c0" /><rect x="205.65" y="807.10" width="0.85" height="20.05" fill="#f6d6c0" /><rect x="207.36" y="807.10" width="1.15" height="20.05" fill="#f6d6c0" /><rect x="211.07" y="807.10" width="1.48" height="20.05" fill="#ea985f" /><rect x="213.83" y="807.10" width="0.68" height="20.05" fill="#f6d6c0" /><rect x="216.21" y="807.10" width="1.31" height="20.05" fill="#f6d6c0" /><rect x="218.75" y="807.10" width="1.02" height="20.05" fill="#ea985f" /><rect x="222.10" y="807.10" width="2.20" height="20.05" fill="#3c3c3c" /><rect x="224.30" y="807.10" width="2.70" height="20.05" fill="#f5d1b8" /><rect x="227.00" y="807.10" width="9.00" height="20.05" fill="#0b0b0b" /><rect x="19.00" y="827.15" width="1.80" height="20.05" fill="#f9e4d5" /><rect x="20.80" y="827.15" width="157.30" height="20.05" fill="#0b0b0b" /><rect x="178.10" y="827.15" width="1.60" height="20.05" fill="#ffffff" /><rect x="179.70" y="827.15" width="1.10" height="20.05" fill="#0b0b0b" /><rect x="180.80" y="827.15" width="9.30" height="20.05" fill="#f5d1b8" /><rect x="182.00" y="827.15" width="1.45" height="20.05" fill="#eeab7c" /><rect x="184.46" y="827.15" width="1.44" height="20.05" fill="#fae6d8" /><rect x="187.72" y="827.15" width="0.97" height="20.05" fill="#eeab7c" /><rect x="190.10" y="827.15" width="1.70" height="20.05" fill="#eb9a5e" /><rect x="191.80" y="827.15" width="28.10" height="20.05" fill="#e87c32" /><rect x="192.40" y="827.15" width="0.85" height="20.05" fill="#f2b78e" /><rect x="195.63" y="827.15" width="1.18" height="20.05" fill="#f2b78e" /><rect x="198.32" y="827.15" width="1.59" height="20.05" fill="#f2b78e" /><rect x="201.13" y="827.15" width="1.41" height="20.05" fill="#e57425" /><rect x="205.13" y="827.15" width="0.70" height="20.05" fill="#f2b78e" /><rect x="208.10" y="827.15" width="1.44" height="20.05" fill="#e57425" /><rect x="210.42" y="827.15" width="0.89" height="20.05" fill="#f2b78e" /><rect x="212.45" y="827.15" width="1.57" height="20.05" fill="#e57425" /><rect x="216.50" y="827.15" width="0.97" height="20.05" fill="#e57425" /><rect x="219.08" y="827.15" width="0.82" height="20.05" fill="#e57425" /><rect x="219.90" y="827.15" width="1.10" height="20.05" fill="#0b0b0b" /><rect x="221.00" y="827.15" width="5.50" height="20.05" fill="#eb9a5e" /><rect x="221.43" y="827.15" width="1.20" height="20.05" fill="#e78741" /><rect x="223.81" y="827.15" width="0.97" height="20.05" fill="#f4c7a6" /><rect x="226.50" y="827.15" width="9.50" height="20.05" fill="#f5d1b8" /><rect x="227.11" y="827.15" width="1.20" height="20.05" fill="#eeab7c" /><rect x="229.47" y="827.15" width="0.61" height="20.05" fill="#fae6d8" /><rect x="232.10" y="827.15" width="0.79" height="20.05" fill="#fae6d8" /><rect x="234.06" y="827.15" width="1.40" height="20.05" fill="#fae6d8" /><rect x="19.00" y="847.20" width="1.30" height="20.05" fill="#f5d1b8" /><rect x="20.30" y="847.20" width="104.70" height="20.05" fill="#0b0b0b" /><rect x="125.00" y="847.20" width="1.60" height="20.05" fill="#3c3c3c" /><rect x="126.60" y="847.20" width="50.40" height="20.05" fill="#0b0b0b" /><rect x="177.00" y="847.20" width="3.30" height="20.05" fill="#ffffff" /><rect x="180.30" y="847.20" width="6.50" height="20.05" fill="#0b0b0b" /><rect x="186.80" y="847.20" width="1.20" height="20.05" fill="#858585" /><rect x="188.00" y="847.20" width="1.60" height="20.05" fill="#0b0b0b" /><rect x="189.60" y="847.20" width="31.40" height="20.05" fill="#eb9a5e" /><rect x="190.02" y="847.20" width="1.00" height="20.05" fill="#e78741" /><rect x="192.97" y="847.20" width="0.69" height="20.05" fill="#f4c7a6" /><rect x="195.71" y="847.20" width="1.01" height="20.05" fill="#f4c7a6" /><rect x="198.07" y="847.20" width="1.55" height="20.05" fill="#f4c7a6" /><rect x="201.45" y="847.20" width="0.96" height="20.05" fill="#f4c7a6" /><rect x="204.76" y="847.20" width="1.60" height="20.05" fill="#f4c7a6" /><rect x="207.51" y="847.20" width="1.33" height="20.05" fill="#f4c7a6" /><rect x="209.65" y="847.20" width="1.50" height="20.05" fill="#f4c7a6" /><rect x="213.43" y="847.20" width="1.01" height="20.05" fill="#e78741" /><rect x="216.06" y="847.20" width="0.76" height="20.05" fill="#f4c7a6" /><rect x="218.62" y="847.20" width="1.24" height="20.05" fill="#e78741" /><rect x="221.00" y="847.20" width="6.60" height="20.05" fill="#ffffff" /><rect x="221.82" y="847.20" width="0.92" height="20.05" fill="#f1c6a6" /><rect x="223.69" y="847.20" width="0.87" height="20.05" fill="#f1c6a6" /><rect x="226.29" y="847.20" width="0.77" height="20.05" fill="#f1c6a6" /><rect x="227.60" y="847.20" width="2.20" height="20.05" fill="#0b0b0b" /><rect x="229.80" y="847.20" width="6.20" height="20.05" fill="#ffffff" /><rect x="19.00" y="867.25" width="1.80" height="20.05" fill="#f5d1b8" /><rect x="20.80" y="867.25" width="2.20" height="20.05" fill="#0b0b0b" /><rect x="23.00" y="867.25" width="11.00" height="20.05" fill="#ffffff" /><rect x="34.00" y="867.25" width="46.00" height="20.05" fill="#0b0b0b" /><rect x="80.00" y="867.25" width="0.80" height="20.05" fill="#858585" /><rect x="80.80" y="867.25" width="29.20" height="20.05" fill="#0b0b0b" /><rect x="110.00" y="867.25" width="1.00" height="20.05" fill="#ffffff" /><rect x="111.00" y="867.25" width="15.10" height="20.05" fill="#0b0b0b" /><rect x="126.10" y="867.25" width="3.90" height="20.05" fill="#ffffff" /><rect x="130.00" y="867.25" width="6.80" height="20.05" fill="#0b0b0b" /><rect x="136.80" y="867.25" width="2.80" height="20.05" fill="#ffffff" /><rect x="139.60" y="867.25" width="34.60" height="20.05" fill="#0b0b0b" /><rect x="174.20" y="867.25" width="1.70" height="20.05" fill="#858585" /><rect x="175.90" y="867.25" width="2.10" height="20.05" fill="#0b0b0b" /><rect x="178.00" y="867.25" width="2.30" height="20.05" fill="#ffffff" /><rect x="180.30" y="867.25" width="5.40" height="20.05" fill="#ffffff" /><rect x="181.47" y="867.25" width="0.82" height="20.05" fill="#f1c6a6" /><rect x="184.03" y="867.25" width="1.29" height="20.05" fill="#f1c6a6" /><rect x="185.70" y="867.25" width="2.30" height="20.05" fill="#858585" /><rect x="188.00" y="867.25" width="1.00" height="20.05" fill="#eb9a5e" /><rect x="189.00" y="867.25" width="36.90" height="20.05" fill="#eb9a5e" /><rect x="190.41" y="867.25" width="0.99" height="20.05" fill="#e78741" /><rect x="193.32" y="867.25" width="1.42" height="20.05" fill="#f4c7a6" /><rect x="196.95" y="867.25" width="0.82" height="20.05" fill="#f4c7a6" /><rect x="200.10" y="867.25" width="1.43" height="20.05" fill="#f4c7a6" /><rect x="202.72" y="867.25" width="1.00" height="20.05" fill="#f4c7a6" /><rect x="205.21" y="867.25" width="0.72" height="20.05" fill="#f4c7a6" /><rect x="208.04" y="867.25" width="1.50" height="20.05" fill="#f4c7a6" /><rect x="211.35" y="867.25" width="1.36" height="20.05" fill="#f4c7a6" /><rect x="215.02" y="867.25" width="0.72" height="20.05" fill="#e78741" /><rect x="217.52" y="867.25" width="1.23" height="20.05" fill="#f4c7a6" /><rect x="220.31" y="867.25" width="1.18" height="20.05" fill="#f4c7a6" /><rect x="223.48" y="867.25" width="1.05" height="20.05" fill="#f4c7a6" /><rect x="225.90" y="867.25" width="1.70" height="20.05" fill="#0b0b0b" /><rect x="227.60" y="867.25" width="2.20" height="20.05" fill="#ffffff" /><rect x="229.80" y="867.25" width="1.20" height="20.05" fill="#3c3c3c" /><rect x="231.00" y="867.25" width="3.20" height="20.05" fill="#ffffff" /><rect x="234.20" y="867.25" width="1.80" height="20.05" fill="#858585" /><rect x="107.00" y="807.10" width="0.80" height="20.05" fill="#858585" /><rect x="135.30" y="807.10" width="0.80" height="20.05" fill="#858585" /><rect x="154.60" y="807.10" width="0.80" height="20.05" fill="#858585" /><rect x="162.10" y="807.10" width="0.80" height="20.05" fill="#858585" /><rect x="93.80" y="827.15" width="0.80" height="20.05" fill="#c8c8c8" /><rect x="102.55" y="827.15" width="0.90" height="20.05" fill="#c8c8c8" /><rect x="109.20" y="827.15" width="0.80" height="20.05" fill="#c8c8c8" /><rect x="112.10" y="827.15" width="1.60" height="20.05" fill="#ffffff" /><rect x="143.60" y="827.15" width="0.80" height="20.05" fill="#c8c8c8" /><rect x="151.10" y="827.15" width="0.80" height="20.05" fill="#c8c8c8" /><rect x="158.80" y="827.15" width="0.80" height="20.05" fill="#858585" /><rect x="162.80" y="827.15" width="0.80" height="20.05" fill="#858585" /><rect x="161.00" y="847.20" width="0.80" height="20.05" fill="#858585" /><rect x="165.90" y="847.20" width="0.80" height="20.05" fill="#c8c8c8" /><rect x="168.00" y="847.20" width="0.80" height="20.05" fill="#c8c8c8" /><rect x="18.00" y="785.70" width="292.00" height="102.60" fill="none" stroke="#8c8c8c" stroke-width="2"/><rect x="17.00" y="804.90" width="294.00" height="2.00" fill="#8c8c8c" /><rect x="242.90" y="787.30" width="2.80" height="17.00" fill="#1a1aff" /><rect x="242.90" y="807.90" width="2.80" height="78.00" fill="#1a1aff" /><text x="248.00" y="803.00" font-size="15.2" fill="#1a1aff" font-weight="bold" text-anchor="start" >H1085L</text><text x="248.00" y="822.80" font-size="15.2" fill="#1a1aff" font-weight="bold" text-anchor="start" >H1085Y</text><text x="248.00" y="842.60" font-size="15.2" fill="#1a1aff" font-weight="bold" text-anchor="start" >N1082S</text><text x="248.00" y="862.60" font-size="15.2" fill="#1a1aff" font-weight="bold" text-anchor="start" >Q1078S</text><text x="248.00" y="882.60" font-size="15.2" fill="#1a1aff" font-weight="bold" text-anchor="start" >T834A</text><text x="9.00" y="904.60" font-size="14" fill="#111" text-anchor="start" >Deviation score</text><text x="46.80" y="920.30" font-size="14" fill="#111" text-anchor="middle" >-6.5</text><text x="103.40" y="920.30" font-size="14" fill="#111" text-anchor="middle" >0</text><text x="174.40" y="920.30" font-size="14" fill="#111" text-anchor="middle" >7</text><defs><linearGradient id="dev" x1="0" x2="1" y1="0" y2="0"><stop offset="0" stop-color="#6a3eaa"/><stop offset="0.245" stop-color="#6d45b0"/><stop offset="0.32" stop-color="#a394d6"/><stop offset="0.40" stop-color="#ffffff"/><stop offset="0.57" stop-color="#ffffff"/><stop offset="0.66" stop-color="#f3c8a5"/><stop offset="0.76" stop-color="#e8731f"/><stop offset="1" stop-color="#e8701a"/></linearGradient></defs><rect x="42.4" y="924.5" width="134.2" height="11.9" fill="url(#dev)" stroke="#555" stroke-width="0.6"/><text x="9.60" y="949.20" font-size="14" fill="#111" text-anchor="start" >Negative</text><text x="83.00" y="949.20" font-size="14" fill="#111" text-anchor="start" >Additive</text><text x="155.80" y="949.20" font-size="14" fill="#111" text-anchor="start" >Positive</text><line x1="68.50" y1="945.80" x2="81.50" y2="945.80" stroke="#111" stroke-width="1.0" /><path d="M65.9,945.8 L70.0,943.9 L70.0,947.7 Z" fill="#111"/><line x1="133.70" y1="945.80" x2="147.50" y2="945.80" stroke="#111" stroke-width="1.0" /><path d="M150.6,945.8 L146.5,943.9 L146.5,947.7 Z" fill="#111"/><rect x="220.90" y="905.00" width="12.90" height="12.80" fill="#bdbdbd" /><text x="240.00" y="916.00" font-size="14.2" fill="#111" text-anchor="start" >Missing value</text><rect x="220.90" y="927.00" width="12.90" height="12.80" fill="#000" /><text x="240.00" y="938.00" font-size="14.2" fill="#111" text-anchor="start" >Synthetic lethality</text><rect x="220.90" y="949.00" width="12.90" height="12.80" fill="#5f5f5f" /><text x="240.00" y="960.00" font-size="14.2" fill="#111" text-anchor="start" >Lethality explainable by presence of lethal single mutant</text>
<rect x="371.20" y="562.40" width="312.80" height="210.00" fill="#fff"/><line x1="403.80" y1="562.40" x2="403.80" y2="772.40" stroke="#f2f2f2" stroke-width="1" /><line x1="481.20" y1="562.40" x2="481.20" y2="772.40" stroke="#f2f2f2" stroke-width="1" /><line x1="558.60" y1="562.40" x2="558.60" y2="772.40" stroke="#f2f2f2" stroke-width="1" /><line x1="636.00" y1="562.40" x2="636.00" y2="772.40" stroke="#f2f2f2" stroke-width="1" /><line x1="371.20" y1="741.58" x2="684.00" y2="741.58" stroke="#f2f2f2" stroke-width="1" /><line x1="371.20" y1="697.52" x2="684.00" y2="697.52" stroke="#f2f2f2" stroke-width="1" /><line x1="371.20" y1="653.48" x2="684.00" y2="653.48" stroke="#f2f2f2" stroke-width="1" /><line x1="371.20" y1="609.42" x2="684.00" y2="609.42" stroke="#f2f2f2" stroke-width="1" /><line x1="371.20" y1="565.38" x2="684.00" y2="565.38" stroke="#f2f2f2" stroke-width="1" /><line x1="442.50" y1="562.40" x2="442.50" y2="772.40" stroke="#ebebeb" stroke-width="2" /><line x1="519.90" y1="562.40" x2="519.90" y2="772.40" stroke="#ebebeb" stroke-width="2" /><line x1="597.30" y1="562.40" x2="597.30" y2="772.40" stroke="#ebebeb" stroke-width="2" /><line x1="674.70" y1="562.40" x2="674.70" y2="772.40" stroke="#ebebeb" stroke-width="2" /><line x1="371.20" y1="763.60" x2="684.00" y2="763.60" stroke="#ebebeb" stroke-width="2" /><line x1="371.20" y1="719.55" x2="684.00" y2="719.55" stroke="#ebebeb" stroke-width="2" /><line x1="371.20" y1="675.50" x2="684.00" y2="675.50" stroke="#ebebeb" stroke-width="2" /><line x1="371.20" y1="631.45" x2="684.00" y2="631.45" stroke="#ebebeb" stroke-width="2" /><line x1="371.20" y1="587.40" x2="684.00" y2="587.40" stroke="#ebebeb" stroke-width="2" /><rect x="372.00" y="563.20" width="311.20" height="208.40" fill="none" stroke="#b3b3b3" stroke-width="1.6"/><line x1="369.60" y1="587.40" x2="371.20" y2="587.40" stroke="#333" stroke-width="1" /><text x="0" y="0" font-size="11.5" fill="#4d4d4d" text-anchor="end" transform="translate(368.4,591.85) scale(1,1.1)">10</text><line x1="369.60" y1="631.45" x2="371.20" y2="631.45" stroke="#333" stroke-width="1" /><text x="0" y="0" font-size="11.5" fill="#4d4d4d" text-anchor="end" transform="translate(368.4,635.90) scale(1,1.1)">5</text><line x1="369.60" y1="675.50" x2="371.20" y2="675.50" stroke="#333" stroke-width="1" /><text x="0" y="0" font-size="11.5" fill="#4d4d4d" text-anchor="end" transform="translate(368.4,679.95) scale(1,1.1)">0</text><line x1="369.60" y1="719.55" x2="371.20" y2="719.55" stroke="#333" stroke-width="1" /><text x="0" y="0" font-size="11.5" fill="#4d4d4d" text-anchor="end" transform="translate(368.4,724.00) scale(1,1.1)">−5</text><line x1="369.60" y1="763.60" x2="371.20" y2="763.60" stroke="#333" stroke-width="1" /><text x="0" y="0" font-size="11.5" fill="#4d4d4d" text-anchor="end" transform="translate(368.4,768.05) scale(1,1.1)">−10</text><line x1="442.50" y1="772.40" x2="442.50" y2="774.20" stroke="#333" stroke-width="1" /><text x="0" y="0" font-size="11.5" fill="#4d4d4d" text-anchor="middle" transform="translate(442.50,783.6) scale(1,1.1)">−10</text><line x1="519.90" y1="772.40" x2="519.90" y2="774.20" stroke="#333" stroke-width="1" /><text x="0" y="0" font-size="11.5" fill="#4d4d4d" text-anchor="middle" transform="translate(519.90,783.6) scale(1,1.1)">0</text><line x1="597.30" y1="772.40" x2="597.30" y2="774.20" stroke="#333" stroke-width="1" /><text x="0" y="0" font-size="11.5" fill="#4d4d4d" text-anchor="middle" transform="translate(597.30,783.6) scale(1,1.1)">10</text><line x1="674.70" y1="772.40" x2="674.70" y2="774.20" stroke="#333" stroke-width="1" /><text x="0" y="0" font-size="11.5" fill="#4d4d4d" text-anchor="middle" transform="translate(674.70,783.6) scale(1,1.1)">20</text><text x="0" y="0" font-size="21" fill="#000" text-anchor="middle" transform="translate(544.9,811.3) scale(1,1.095)">PC1-46.9%</text><text x="0" y="0" font-size="21" fill="#000" text-anchor="middle" transform="translate(355.0,678.4) rotate(-90) scale(1,1.1)">PC2-15.1%</text><text x="560.00" y="574.70" font-size="12.4" fill="#1a1aff" text-anchor="middle" >H1085L</text><text x="627.70" y="594.20" font-size="12.4" fill="#1a1aff" text-anchor="middle" >T834A</text><text x="660.90" y="620.80" font-size="12.4" fill="#1a1aff" text-anchor="middle" >N1082S</text><text x="442.30" y="611.80" font-size="12.4" fill="#3c9b3c" text-anchor="middle" >M1079V</text><text x="437.10" y="631.70" font-size="12.4" fill="#3c9b3c" text-anchor="middle" >S713P</text><text x="413.70" y="678.90" font-size="12.4" fill="#3c9b3c" text-anchor="middle" >E1103G</text><text x="462.40" y="686.60" font-size="12.4" fill="#3c9b3c" text-anchor="middle" >F1084I</text><text x="462.70" y="725.00" font-size="12.4" fill="#3c9b3c" text-anchor="middle" >L1101S</text><text x="519.20" y="733.30" font-size="12.4" fill="#3c9b3c" text-anchor="middle" >T834P</text><text x="392.70" y="760.70" font-size="12.4" fill="#3c9b3c" text-anchor="middle" >Y769F</text><text x="661.30" y="756.10" font-size="12.4" fill="#1a1aff" text-anchor="middle" >H1085Y</text><text x="659.70" y="764.50" font-size="12.4" fill="#1a1aff" text-anchor="middle" >Q1078S</text><text x="379.00" y="551.80" font-size="17.8" fill="#000" font-weight="bold" text-anchor="start" >d</text>
</svg>
</body></html>
